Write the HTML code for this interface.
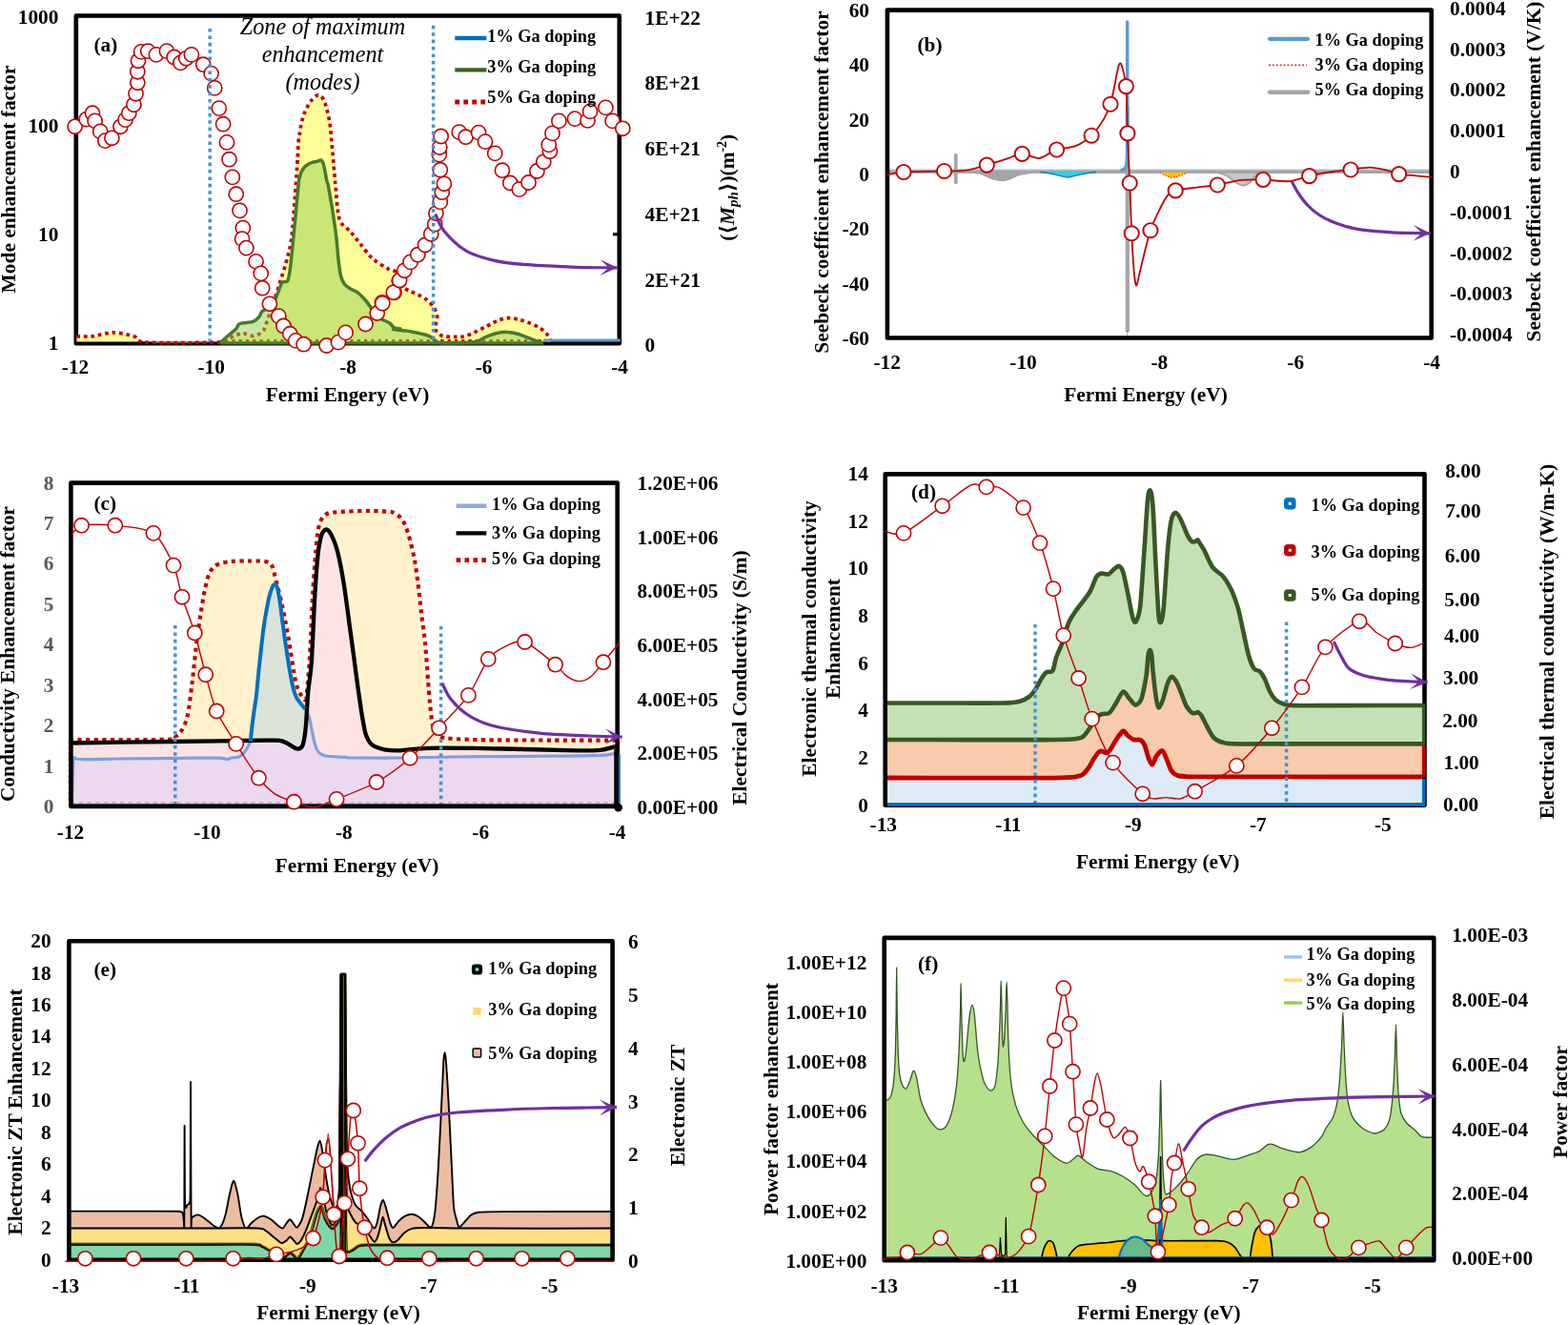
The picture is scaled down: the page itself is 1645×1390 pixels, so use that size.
<!DOCTYPE html>
<html lang="en"><head><meta charset="utf-8"><title>Figure</title>
<style>
html,body{margin:0;padding:0;background:#fff;}
svg{display:block;}
svg text{font-family:"Liberation Serif","DejaVu Serif",serif;}
</style></head><body>
<svg width="1645" height="1390" viewBox="0 0 1645 1390">
<rect width="1645" height="1390" fill="#fff"/>
<g id="panel-a">
<rect x="79.8" y="16.5" width="570" height="343.8" fill="none" stroke="#000" stroke-width="4.6" stroke-linejoin="round"/>
<line x1="643" y1="245.8" x2="649.8" y2="245.8" stroke="#000" stroke-width="3.2" />
<path d="M80.4 352.8 C82.9 352.8 91.3 353.3 97 352.8 C102.8 352.2 112.2 348.9 118.7 348.9 C125.2 348.9 135.3 351.2 140.4 352.8 C145.6 354.3 140.6 358.2 153.2 359.1 C165.8 360.1 212.4 359.4 224.7 359.1 C236.9 358.9 231.4 358.5 234.9 357.4 C238.3 356.2 244.6 352.6 247.7 351.5 C250.7 350.3 252.6 349.6 255.3 349.7 C258 349.8 262.5 352.6 265.5 352.3 C268.6 351.9 273.4 350.3 275.7 347.7 C278 345.1 279.1 339.5 280.9 334.9 C282.6 330.3 285.3 322.8 287.2 317 C289.1 311.3 291.5 303.5 293.6 296.6 C295.7 289.7 299.4 278.7 301.3 271.1 C303.2 263.4 304.8 259.6 306.4 245.5 C307.9 231.5 310.6 190 311.5 177.6 C312.4 165.2 312.1 167.3 312.4 162.9 C312.6 158.5 312.9 151.6 313.2 148.2 C313.5 144.8 314 142.6 314.4 140.4 C314.7 138.2 315 135.7 315.4 133.5 C315.8 131.3 316.5 128 317.1 125.8 C317.7 123.6 318.5 120.9 319.3 118.8 C320.1 116.8 321.3 114.3 322.3 112.4 C323.3 110.4 324.8 107.6 326.2 105.9 C327.5 104.2 330.1 101.6 331.4 100.7 C332.6 99.8 333.5 99.8 334.4 99.9 C335.3 99.9 336.4 99.9 337.4 101.2 C338.4 102.4 340 106 340.9 108.1 C341.7 110.1 342.4 112.8 343 115 C343.6 117.1 344.3 120.1 344.7 122.3 C345.2 124.5 345.7 127.4 346 129.6 C346.4 131.8 346.7 134.8 346.9 137 C347.1 139.2 347.3 142.1 347.5 144.3 C347.7 146.5 348 149.5 348.2 151.7 C348.4 153.9 348.7 156.8 348.9 159 C349.1 161.2 349.3 164.1 349.5 166.3 C349.7 168.5 349.9 171.5 350.1 173.7 C350.3 175.9 350.6 178.8 350.8 181 C351 183.2 351.2 186.1 351.4 188.3 C351.6 190.5 351.4 189.4 352.1 195.7 C352.8 202 353.8 223.1 356.2 230.2 C358.5 237.3 364.4 239.1 367.7 243 C370.9 246.8 374.4 251.5 377.9 255.7 C381.3 260 386.4 267.2 390.6 271.1 C394.9 274.9 401.7 278.9 406 281.3 C410.2 283.7 417.3 284.4 418.7 286.9 C420.1 289.4 413.5 295.1 415.3 297.9 C417.1 300.7 426 303.2 430.6 305.5 C435.2 307.8 442.3 310.7 446 313.2 C449.6 315.7 453 319.3 454.9 322.1 C456.8 325 458.5 328.9 458.7 332.3 C459 335.8 455.9 342.1 456.7 345.1 C457.4 348.1 460.8 351 463.8 352.3 C466.8 353.5 472.8 353.3 476.6 353.3 C480.4 353.3 484.4 353.9 489.4 352.3 C494.3 350.6 504.8 345 509.8 342.6 C514.8 340.1 519.1 337.5 522.6 336.2 C526 334.8 529.7 333.8 532.8 333.6 C535.8 333.4 539.9 334.2 543 334.9 C546 335.5 549.7 336.6 553.2 338 C556.6 339.3 562.9 342 566 343.8 C569 345.7 571.8 348.1 573.6 350.2 C575.5 352.3 577.5 356.7 578.2 357.9 L578.2 358.5 L80.4 358.5 Z" fill="#ffff99" stroke="none" stroke-width="1" />
<path d="M80.4 352.8 C82.9 352.8 91.3 353.3 97 352.8 C102.8 352.2 112.2 348.9 118.7 348.9 C125.2 348.9 135.3 351.2 140.4 352.8 C145.6 354.3 140.6 358.2 153.2 359.1 C165.8 360.1 212.4 359.4 224.7 359.1 C236.9 358.9 231.4 358.5 234.9 357.4 C238.3 356.2 244.6 352.6 247.7 351.5 C250.7 350.3 252.6 349.6 255.3 349.7 C258 349.8 262.5 352.6 265.5 352.3 C268.6 351.9 273.4 350.3 275.7 347.7 C278 345.1 279.1 339.5 280.9 334.9 C282.6 330.3 285.3 322.8 287.2 317 C289.1 311.3 291.5 303.5 293.6 296.6 C295.7 289.7 299.4 278.7 301.3 271.1 C303.2 263.4 304.8 259.6 306.4 245.5 C307.9 231.5 310.6 190 311.5 177.6 C312.4 165.2 312.1 167.3 312.4 162.9 C312.6 158.5 312.9 151.6 313.2 148.2 C313.5 144.8 314 142.6 314.4 140.4 C314.7 138.2 315 135.7 315.4 133.5 C315.8 131.3 316.5 128 317.1 125.8 C317.7 123.6 318.5 120.9 319.3 118.8 C320.1 116.8 321.3 114.3 322.3 112.4 C323.3 110.4 324.8 107.6 326.2 105.9 C327.5 104.2 330.1 101.6 331.4 100.7 C332.6 99.8 333.5 99.8 334.4 99.9 C335.3 99.9 336.4 99.9 337.4 101.2 C338.4 102.4 340 106 340.9 108.1 C341.7 110.1 342.4 112.8 343 115 C343.6 117.1 344.3 120.1 344.7 122.3 C345.2 124.5 345.7 127.4 346 129.6 C346.4 131.8 346.7 134.8 346.9 137 C347.1 139.2 347.3 142.1 347.5 144.3 C347.7 146.5 348 149.5 348.2 151.7 C348.4 153.9 348.7 156.8 348.9 159 C349.1 161.2 349.3 164.1 349.5 166.3 C349.7 168.5 349.9 171.5 350.1 173.7 C350.3 175.9 350.6 178.8 350.8 181 C351 183.2 351.2 186.1 351.4 188.3 C351.6 190.5 351.4 189.4 352.1 195.7 C352.8 202 353.8 223.1 356.2 230.2 C358.5 237.3 364.4 239.1 367.7 243 C370.9 246.8 374.4 251.5 377.9 255.7 C381.3 260 386.4 267.2 390.6 271.1 C394.9 274.9 401.7 278.9 406 281.3 C410.2 283.7 417.3 284.4 418.7 286.9 C420.1 289.4 413.5 295.1 415.3 297.9 C417.1 300.7 426 303.2 430.6 305.5 C435.2 307.8 442.3 310.7 446 313.2 C449.6 315.7 453 319.3 454.9 322.1 C456.8 325 458.5 328.9 458.7 332.3 C459 335.8 455.9 342.1 456.7 345.1 C457.4 348.1 460.8 351 463.8 352.3 C466.8 353.5 472.8 353.3 476.6 353.3 C480.4 353.3 484.4 353.9 489.4 352.3 C494.3 350.6 504.8 345 509.8 342.6 C514.8 340.1 519.1 337.5 522.6 336.2 C526 334.8 529.7 333.8 532.8 333.6 C535.8 333.4 539.9 334.2 543 334.9 C546 335.5 549.7 336.6 553.2 338 C556.6 339.3 562.9 342 566 343.8 C569 345.7 571.8 348.1 573.6 350.2 C575.5 352.3 577.5 356.7 578.2 357.9" fill="none" stroke="#c00000" stroke-width="3.7" stroke-dasharray="3.7 3.8"/>
<line x1="236" y1="357.2" x2="578" y2="357.2" stroke="#c00000" stroke-width="2.6" stroke-dasharray="3.2 4.1"/>
<path d="M231 359.6 C232.3 358.4 237.5 353.7 240 351.5 C242.5 349.3 245.9 346.9 247.7 345.1 C249.4 343.3 248.8 340.6 251.5 339.5 C254.2 338.3 262.5 338.5 265.5 337.4 C268.6 336.4 270.6 333.9 271.9 332.3 C273.3 330.8 272.9 328.8 274.5 327.2 C276 325.7 280 324 282.1 322.1 C284.2 320.2 286.8 317.5 288.5 314.5 C290.2 311.4 292.5 304.5 293.6 301.7 C294.8 298.9 294.9 297.2 296.2 296.1 C297.4 294.9 300.7 297 302 294 C303.4 291.1 304.2 283.4 305.1 276.2 C306 268.9 307.4 253.2 308.2 245.5 C308.9 237.9 309.5 233.1 310.2 225.1 C311 217.1 312.6 198.2 313.2 192.2 C313.9 186.3 314 187.3 314.5 185.3 C315.1 183.4 315.9 180.8 316.7 179.3 C317.5 177.7 318.6 176.1 319.7 175 C320.8 173.9 322.7 172.7 324 171.9 C325.3 171.2 327.1 170.6 328.3 170.2 C329.6 169.8 331.5 169.7 332.7 169.4 C333.8 169 335.3 168.1 336.1 168.1 C336.9 168 337.4 168.4 337.8 168.9 C338.3 169.4 338.7 170.3 339.1 171.5 C339.5 172.7 340 174.9 340.4 176.7 C340.8 178.5 341.3 181.5 341.7 183.6 C342.1 185.7 342.6 188.6 343 190.5 C343.5 192.4 343.4 189.1 344.7 196.5 C346.1 204 350.3 229.2 351.8 240.4 C353.4 251.6 354.1 263.8 354.9 271.1 C355.7 278.3 356.5 284.9 357.4 288.9 C358.4 293 359.7 295.8 361.3 297.9 C362.8 300 365.6 301.6 367.7 303 C369.8 304.3 373 305.1 375.3 306.8 C377.6 308.5 380.7 311.8 383 314.5 C385.3 317.1 388.3 321.8 390.6 324.7 C392.9 327.6 395.6 331.5 398.3 333.6 C401 335.7 406.2 337.2 408.5 338.7 C410.8 340.3 411.9 342.9 413.6 343.8 C415.3 344.8 420.1 344.8 420 345.1 C419.9 345.4 411.2 345.2 412.8 345.6 C414.4 346 425.1 346.7 430.6 347.7 C436.2 348.7 445.9 350.8 449.8 352.3 C453.7 353.7 455 356.3 456.7 357.4 C458.4 358.4 458.3 359.1 461.3 359.4 C464.3 359.7 471.6 359.7 476.6 359.7 C481.6 359.6 490.6 359.5 494.5 359.1 C498.3 358.8 499.8 358.2 502.1 357.4 C504.4 356.5 506.7 354.5 509.8 353.3 C512.9 352.1 519.1 349.9 522.6 349.2 C526 348.5 529.7 348.3 532.8 348.4 C535.8 348.6 539.9 349.4 543 350.2 C546 351.1 550.1 352.9 553.2 354 C556.3 355.2 560.9 357 563.4 357.9 C565.9 358.8 568.8 359.6 569.8 359.9 L569.8 360.3 L231 360.3 Z" fill="#92d050" stroke="none" stroke-width="1" fill-opacity="0.5"/>
<path d="M231 359.6 C232.3 358.4 237.5 353.7 240 351.5 C242.5 349.3 245.9 346.9 247.7 345.1 C249.4 343.3 248.8 340.6 251.5 339.5 C254.2 338.3 262.5 338.5 265.5 337.4 C268.6 336.4 270.6 333.9 271.9 332.3 C273.3 330.8 272.9 328.8 274.5 327.2 C276 325.7 280 324 282.1 322.1 C284.2 320.2 286.8 317.5 288.5 314.5 C290.2 311.4 292.5 304.5 293.6 301.7 C294.8 298.9 294.9 297.2 296.2 296.1 C297.4 294.9 300.7 297 302 294 C303.4 291.1 304.2 283.4 305.1 276.2 C306 268.9 307.4 253.2 308.2 245.5 C308.9 237.9 309.5 233.1 310.2 225.1 C311 217.1 312.6 198.2 313.2 192.2 C313.9 186.3 314 187.3 314.5 185.3 C315.1 183.4 315.9 180.8 316.7 179.3 C317.5 177.7 318.6 176.1 319.7 175 C320.8 173.9 322.7 172.7 324 171.9 C325.3 171.2 327.1 170.6 328.3 170.2 C329.6 169.8 331.5 169.7 332.7 169.4 C333.8 169 335.3 168.1 336.1 168.1 C336.9 168 337.4 168.4 337.8 168.9 C338.3 169.4 338.7 170.3 339.1 171.5 C339.5 172.7 340 174.9 340.4 176.7 C340.8 178.5 341.3 181.5 341.7 183.6 C342.1 185.7 342.6 188.6 343 190.5 C343.5 192.4 343.4 189.1 344.7 196.5 C346.1 204 350.3 229.2 351.8 240.4 C353.4 251.6 354.1 263.8 354.9 271.1 C355.7 278.3 356.5 284.9 357.4 288.9 C358.4 293 359.7 295.8 361.3 297.9 C362.8 300 365.6 301.6 367.7 303 C369.8 304.3 373 305.1 375.3 306.8 C377.6 308.5 380.7 311.8 383 314.5 C385.3 317.1 388.3 321.8 390.6 324.7 C392.9 327.6 395.6 331.5 398.3 333.6 C401 335.7 406.2 337.2 408.5 338.7 C410.8 340.3 411.9 342.9 413.6 343.8 C415.3 344.8 420.1 344.8 420 345.1 C419.9 345.4 411.2 345.2 412.8 345.6 C414.4 346 425.1 346.7 430.6 347.7 C436.2 348.7 445.9 350.8 449.8 352.3 C453.7 353.7 455 356.3 456.7 357.4 C458.4 358.4 458.3 359.1 461.3 359.4 C464.3 359.7 471.6 359.7 476.6 359.7 C481.6 359.6 490.6 359.5 494.5 359.1 C498.3 358.8 499.8 358.2 502.1 357.4 C504.4 356.5 506.7 354.5 509.8 353.3 C512.9 352.1 519.1 349.9 522.6 349.2 C526 348.5 529.7 348.3 532.8 348.4 C535.8 348.6 539.9 349.4 543 350.2 C546 351.1 550.1 352.9 553.2 354 C556.3 355.2 560.9 357 563.4 357.9 C565.9 358.8 568.8 359.6 569.8 359.9" fill="none" stroke="#477a30" stroke-width="3.5" stroke-linejoin="round"/>
<line x1="231" y1="360" x2="570" y2="360" stroke="#477a30" stroke-width="3.2" />
<line x1="570" y1="356.9" x2="650.8" y2="356.9" stroke="#5b9bd5" stroke-width="3" />
<g fill="#fff" stroke="#c00000" stroke-width="1.6"><circle cx="78.6" cy="132.8" r="7.6"/><circle cx="90.6" cy="125.1" r="7.6"/><circle cx="97" cy="118.7" r="7.6"/><circle cx="99.6" cy="126.9" r="7.6"/><circle cx="105.2" cy="137.9" r="7.6"/><circle cx="110.3" cy="147.6" r="7.6"/><circle cx="117.4" cy="144.8" r="7.6"/><circle cx="126.4" cy="132.8" r="7.6"/><circle cx="131.5" cy="125.6" r="7.6"/><circle cx="135.3" cy="118.7" r="7.6"/><circle cx="140.4" cy="109.8" r="7.6"/><circle cx="142.5" cy="98.3" r="7.6"/><circle cx="144.3" cy="86.8" r="7.6"/><circle cx="144.3" cy="75.3" r="7.6"/><circle cx="145" cy="63.8" r="7.6"/><circle cx="148.1" cy="54.4" r="7.6"/><circle cx="155.2" cy="53.6" r="7.6"/><circle cx="163.9" cy="57.4" r="7.6"/><circle cx="174.9" cy="53.6" r="7.6"/><circle cx="182.6" cy="60" r="7.6"/><circle cx="189.4" cy="65.9" r="7.6"/><circle cx="195.3" cy="61.3" r="7.6"/><circle cx="200.9" cy="57.4" r="7.6"/><circle cx="213.2" cy="67.7" r="7.6"/><circle cx="221.6" cy="77.1" r="7.6"/><circle cx="225.2" cy="92.4" r="7.6"/><circle cx="229.8" cy="113.6" r="7.6"/><circle cx="234.1" cy="130.2" r="7.6"/><circle cx="238" cy="149.4" r="7.6"/><circle cx="240.5" cy="167.2" r="7.6"/><circle cx="243.8" cy="185.9" r="7.6"/><circle cx="247.7" cy="203.7" r="7.6"/><circle cx="251.5" cy="220.9" r="7.6"/><circle cx="254.8" cy="239.1" r="7.6"/><circle cx="254" cy="250.6" r="7.6"/><circle cx="258.4" cy="260.1" r="7.6"/><circle cx="268.6" cy="274.4" r="7.6"/><circle cx="273.7" cy="286.9" r="7.6"/><circle cx="275.2" cy="302.2" r="7.6"/><circle cx="282.9" cy="318.8" r="7.6"/><circle cx="292.3" cy="331.6" r="7.6"/><circle cx="297.4" cy="342" r="7.6"/><circle cx="304.3" cy="350.2" r="7.6"/><circle cx="310.2" cy="357.4" r="7.6"/><circle cx="318.6" cy="361.2" r="7.6"/><circle cx="342.6" cy="362.5" r="7.6"/><circle cx="354.9" cy="359.1" r="7.6"/><circle cx="362.6" cy="348.9" r="7.6"/><circle cx="383.5" cy="340" r="7.6"/><circle cx="395.7" cy="328.5" r="7.6"/><circle cx="400.9" cy="317.5" r="7.6"/><circle cx="413.6" cy="306.8" r="7.6"/><circle cx="418.7" cy="294.6" r="7.6"/><circle cx="401.3" cy="318.3" r="7.6"/><circle cx="412.8" cy="306.8" r="7.6"/><circle cx="419.1" cy="294" r="7.6"/><circle cx="424.3" cy="283.8" r="7.6"/><circle cx="430.6" cy="274.9" r="7.6"/><circle cx="438.3" cy="267.2" r="7.6"/><circle cx="446" cy="257" r="7.6"/><circle cx="452.3" cy="245.5" r="7.6"/><circle cx="456.2" cy="235.3" r="7.6"/><circle cx="457.4" cy="223.8" r="7.6"/><circle cx="461.8" cy="211.9" r="7.6"/><circle cx="463.8" cy="201.7" r="7.6"/><circle cx="465.9" cy="192.8" r="7.6"/><circle cx="461.8" cy="178.2" r="7.6"/><circle cx="460.8" cy="162.1" r="7.6"/><circle cx="461.3" cy="154.5" r="7.6"/><circle cx="462.6" cy="143" r="7.6"/><circle cx="481.7" cy="138.6" r="7.6"/><circle cx="488.6" cy="143.7" r="7.6"/><circle cx="502.1" cy="139.1" r="7.6"/><circle cx="509" cy="148.6" r="7.6"/><circle cx="519.2" cy="160.9" r="7.6"/><circle cx="526.9" cy="178.7" r="7.6"/><circle cx="535.3" cy="192" r="7.6"/><circle cx="544.8" cy="198.6" r="7.6"/><circle cx="554.5" cy="191.5" r="7.6"/><circle cx="563.4" cy="179.5" r="7.6"/><circle cx="570.3" cy="169.8" r="7.6"/><circle cx="576.9" cy="158.8" r="7.6"/><circle cx="575.7" cy="151.9" r="7.6"/><circle cx="579.5" cy="139.9" r="7.6"/><circle cx="586.4" cy="126.9" r="7.6"/><circle cx="603" cy="124.6" r="7.6"/><circle cx="616.5" cy="126.4" r="7.6"/><circle cx="619.1" cy="116.9" r="7.6"/><circle cx="635.4" cy="112.9" r="7.6"/><circle cx="642.6" cy="126.9" r="7.6"/><circle cx="653.3" cy="134.8" r="7.6"/></g>
<line x1="220.2" y1="30" x2="220.2" y2="358" stroke="#4492d8" stroke-width="3.5" stroke-dasharray="3.6 3.8"/>
<line x1="454.6" y1="26.8" x2="454.6" y2="358" stroke="#4492d8" stroke-width="3.5" stroke-dasharray="3.6 3.8"/>
<path d="M456.7 224.6 C458.3 227.7 460.9 236.5 466.4 243 C471.8 249.4 480.4 258.3 489.4 263.4 C498.3 268.5 509.4 271.2 520 273.6 C530.6 276 539.1 276.6 553.2 277.7 C567.2 278.8 588.5 279.7 604.3 280.3 C620 280.8 640.4 280.7 647.7 280.8" fill="none" stroke="#7030a0" stroke-width="3.2" stroke-linecap="butt"/><path d="M647.7 280.8 L629.8 272.3 L638.7 280.7 L629.6 288.9Z" fill="#7030a0" stroke="none" stroke-width="1" />
<text x="61.4" y="24.9" font-size="21.3" text-anchor="end" font-weight="bold" font-style="normal" fill="#000" >1000</text>
<text x="61.4" y="139" font-size="21.3" text-anchor="end" font-weight="bold" font-style="normal" fill="#000" >100</text>
<text x="61.4" y="252.5" font-size="21.3" text-anchor="end" font-weight="bold" font-style="normal" fill="#000" >10</text>
<text x="61.4" y="367.2" font-size="21.3" text-anchor="end" font-weight="bold" font-style="normal" fill="#000" >1</text>
<text x="79" y="392.4" font-size="21.3" text-anchor="middle" font-weight="bold" font-style="normal" fill="#000" >-12</text>
<text x="221.6" y="392.4" font-size="21.3" text-anchor="middle" font-weight="bold" font-style="normal" fill="#000" >-10</text>
<text x="365" y="392.4" font-size="21.3" text-anchor="middle" font-weight="bold" font-style="normal" fill="#000" >-8</text>
<text x="507.6" y="392.4" font-size="21.3" text-anchor="middle" font-weight="bold" font-style="normal" fill="#000" >-6</text>
<text x="650" y="392.4" font-size="21.3" text-anchor="middle" font-weight="bold" font-style="normal" fill="#000" >-4</text>
<text x="676.6" y="25.7" font-size="21.3" text-anchor="start" font-weight="bold" font-style="normal" fill="#000" >1E+22</text>
<text x="676.6" y="94.1" font-size="21.3" text-anchor="start" font-weight="bold" font-style="normal" fill="#000" >8E+21</text>
<text x="676.6" y="163" font-size="21.3" text-anchor="start" font-weight="bold" font-style="normal" fill="#000" >6E+21</text>
<text x="676.6" y="232.3" font-size="21.3" text-anchor="start" font-weight="bold" font-style="normal" fill="#000" >4E+21</text>
<text x="676.6" y="300.8" font-size="21.3" text-anchor="start" font-weight="bold" font-style="normal" fill="#000" >2E+21</text>
<text x="676.6" y="369" font-size="21.3" text-anchor="start" font-weight="bold" font-style="normal" fill="#000" >0</text>
<text x="364.5" y="420.8" font-size="21.3" text-anchor="middle" font-weight="bold" font-style="normal" fill="#000" >Fermi Engery (eV)</text>
<text x="16" y="188" font-size="21.4" text-anchor="middle" font-weight="bold" font-style="normal" fill="#000" transform="rotate(-90 16 188)" >Mode enhancement factor</text>
<text transform="rotate(-90 769.6 196.8)" x="769.6" y="196.8" font-size="21.3" font-weight="bold" text-anchor="middle">(⟨<tspan font-style="italic">M</tspan><tspan font-style="italic" font-size="15" dy="4">ph</tspan><tspan dy="-4">⟩)(m</tspan><tspan font-size="14" dy="-8">-2</tspan><tspan dy="8">)</tspan></text>
<text x="98.5" y="54" font-size="21.3" text-anchor="start" font-weight="bold" font-style="normal" fill="#000" >(a)</text>
<text x="338.5" y="35.5" font-size="24.2" text-anchor="middle" font-weight="normal" font-style="italic" fill="#000" >Zone of maximum</text>
<text x="338.5" y="65.3" font-size="24.2" text-anchor="middle" font-weight="normal" font-style="italic" fill="#000" >enhancement</text>
<text x="338.5" y="94" font-size="24.2" text-anchor="middle" font-weight="normal" font-style="italic" fill="#000" >(modes)</text>
<text x="511.3" y="44.3" font-size="18.3" text-anchor="start" font-weight="bold" font-style="normal" fill="#000" >1% Ga doping</text>
<text x="511.3" y="75.7" font-size="18.3" text-anchor="start" font-weight="bold" font-style="normal" fill="#000" >3% Ga doping</text>
<text x="511.3" y="107.5" font-size="18.3" text-anchor="start" font-weight="bold" font-style="normal" fill="#000" >5% Ga doping</text>
<line x1="477.3" y1="40" x2="510.4" y2="40" stroke="#0070c0" stroke-width="4.6" />
<line x1="477.3" y1="73.3" x2="510.4" y2="73.3" stroke="#3b611f" stroke-width="4.2" />
<line x1="477.3" y1="107" x2="510.4" y2="107" stroke="#c00000" stroke-width="4.8" stroke-dasharray="4.8 4.2"/>
</g>
<g id="panel-b">
<path d="M1016.2 180.8 C1018.3 181.1 1024.7 181.4 1028.9 182.6 C1033.2 183.7 1037.9 186.5 1041.7 187.7 C1045.5 188.8 1048.9 189.4 1051.9 189.4 C1054.9 189.4 1056.6 188.7 1059.6 187.7 C1062.6 186.6 1065.5 184.5 1069.8 183.3 C1074 182.2 1082.6 181.2 1085.1 180.8Z" fill="#a5a5a5" stroke="#a5a5a5" stroke-width="1.5" />
<path d="M1276.1 180.8 C1277.8 181.3 1282.9 182 1286.3 183.8 C1289.7 185.6 1293.5 189.7 1296.5 191.5 C1299.5 193.3 1301.8 194.5 1304.1 194.6 C1306.5 194.6 1308.4 193.6 1310.5 192 C1312.7 190.4 1314.6 187 1316.9 185.1 C1319.3 183.2 1323.3 181.5 1324.6 180.8Z" fill="#c8c8c8" stroke="#a5a5a5" stroke-width="2" />
<line x1="930.9" y1="180.1" x2="1501.7" y2="180.1" stroke="#a5a5a5" stroke-width="3.8" />
<line x1="930.9" y1="177.9" x2="1501.7" y2="177.9" stroke="#9dc3e6" stroke-width="0.9" />
<path d="M1091.5 180.3 C1093.8 180.7 1100.9 181.9 1105.5 182.8 C1110.2 183.7 1114.9 185.8 1119.6 185.9 C1124.3 185.9 1128.5 184 1133.6 183.1 C1138.7 182.1 1147.4 180.7 1150.2 180.3Z" fill="#22d3ee" stroke="none" stroke-width="1" />
<path d="M1091.5 180.3 C1093.8 180.7 1100.9 181.9 1105.5 182.8 C1110.2 183.7 1114.9 185.8 1119.6 185.9 C1124.3 185.9 1128.5 184 1133.6 183.1 C1138.7 182.1 1147.4 180.7 1150.2 180.3" fill="none" stroke="#2e75b6" stroke-width="1.5" />
<path d="M1217.4 180.8 C1218.3 181.4 1220.8 183.4 1223 184.3 C1225.2 185.3 1228.1 186.4 1230.6 186.4 C1233.2 186.4 1235.8 185.3 1238.3 184.3 C1240.8 183.4 1244.3 181.4 1245.4 180.8Z" fill="#ffc000" stroke="none" stroke-width="1" />
<path d="M1217.4 180.8 C1218.3 181.4 1220.8 183.4 1223 184.3 C1225.2 185.3 1228.1 186.4 1230.6 186.4 C1233.2 186.4 1235.8 185.3 1238.3 184.3 C1240.8 183.4 1244.3 181.4 1245.4 180.8" fill="none" stroke="#e03030" stroke-width="1.2" stroke-dasharray="1.4 1.6"/>
<line x1="1182.8" y1="112" x2="1182.8" y2="347" stroke="#a5a5a5" stroke-width="4.2" stroke-linecap="round"/>
<line x1="1002.8" y1="162.5" x2="1002.8" y2="191.5" stroke="#a5a5a5" stroke-width="3.6" stroke-linecap="round"/>
<path d="M1176.8 178.5 C1181.3 177.7 1182.5 173.7 1182.7 159.7 L1182.7 23" fill="none" stroke="#5b9bd5" stroke-width="3.4" stroke-linecap="round"/>
<line x1="1182.8" y1="347" x2="1182.8" y2="356" stroke="#e03030" stroke-width="1" stroke-dasharray="1.5 1.5"/>
<line x1="1182.3" y1="95" x2="1182.3" y2="113" stroke="#e03030" stroke-width="1.4" stroke-dasharray="1.5 1.5"/>
<rect x="930.9" y="10.6" width="570.8" height="343.9" fill="none" stroke="#000" stroke-width="4.6" stroke-linejoin="round"/>
<path d="M931 183.2 C933.3 182.8 940 181 948 180.5 C956 180 981.9 179.7 990.6 179.5 C999.4 179.3 1007.7 179.6 1013.6 178.7 C1019.6 177.9 1029.9 174.6 1035.3 173.1 C1040.8 171.6 1049.5 168.8 1054.5 167.2 C1059.4 165.7 1067.6 161.5 1072.3 161.4 C1077.1 161.2 1085.4 166.5 1090.2 166 C1095 165.4 1103.5 158.7 1108.6 157 C1113.7 155.3 1123.6 155.2 1128.5 153.2 C1133.4 151.2 1141.2 146 1145.1 142.2 C1149 138.5 1155.2 129.5 1157.9 125.1 C1160.5 120.7 1163.5 114 1165 109.3 C1166.6 104.5 1168.3 94.6 1169.4 89.4 C1170.5 84.2 1172.3 73.3 1173.2 70.2 C1174 67.1 1175.1 65.9 1175.7 66.4 C1176.4 66.9 1177.5 70.8 1178.3 74 C1179 77.3 1180.7 81.9 1181.4 90.6 C1182 99.4 1182.4 126.4 1182.9 139.9 C1183.4 153.4 1184.6 178 1185.2 192 C1185.8 206 1186.6 232.2 1187.2 244.8 C1187.8 257.4 1189.1 279.1 1189.8 286.4 C1190.5 293.7 1191.5 300 1192.3 299.7 C1193.2 299.3 1194.2 291.6 1196.2 283.8 C1198.1 276.1 1204 250.6 1206.9 241.7 C1209.8 232.8 1215.4 222 1217.9 217 C1220.4 212 1223.5 206.5 1225.5 204.3 C1227.6 202 1229.2 200.9 1233.2 199.9 C1237.2 198.9 1249.8 197.4 1255.6 196.6 C1261.5 195.8 1271.2 195.1 1277.3 194 C1283.5 193 1295.2 189.7 1301.6 188.9 C1308 188.2 1318.3 188.3 1325.1 188.4 C1331.9 188.6 1346.2 190.7 1352.7 190.2 C1359.1 189.7 1367.5 186 1373.6 184.6 C1379.7 183.2 1392.8 180.9 1398.6 180 C1404.4 179.1 1411.9 178.5 1417 178 C1422.1 177.4 1431.9 175.6 1436.9 175.7 C1442 175.8 1450.7 177.8 1454.8 178.7 C1458.9 179.6 1463.5 181.8 1467.6 182.6 C1471.6 183.3 1480.8 183.9 1485.4 184.3 C1490 184.8 1499.8 185.7 1502 185.9" fill="none" stroke="#c00000" stroke-width="1.8" />
<g fill="#fff" stroke="#c00000" stroke-width="1.9"><circle cx="948" cy="180.5" r="7.6"/><circle cx="990.6" cy="179.5" r="7.6"/><circle cx="1035.3" cy="173.1" r="7.6"/><circle cx="1072.3" cy="161.4" r="7.6"/><circle cx="1108.6" cy="157" r="7.6"/><circle cx="1145.1" cy="142.2" r="7.6"/><circle cx="1165" cy="109.3" r="7.6"/><circle cx="1181.4" cy="90.6" r="7.6"/><circle cx="1182.9" cy="139.9" r="7.6"/><circle cx="1185.2" cy="192" r="7.6"/><circle cx="1233.2" cy="199.9" r="7.6"/><circle cx="1187.2" cy="244.8" r="7.6"/><circle cx="1206.9" cy="241.7" r="7.6"/><circle cx="1277.3" cy="194" r="7.6"/><circle cx="1325.1" cy="188.4" r="7.6"/><circle cx="1373.6" cy="184.6" r="7.6"/><circle cx="1417" cy="178" r="7.6"/><circle cx="1467.6" cy="182.6" r="7.6"/></g>
<path d="M1355.2 190.2 C1356.3 192.2 1359.2 198.3 1362 202.5 C1364.8 206.7 1368.3 211.7 1372 215.5 C1375.7 219.3 1379.8 222.7 1384 225.5 C1388.2 228.3 1392.5 230.4 1397 232.3 C1401.5 234.2 1405.7 235.7 1411 237.2 C1416.3 238.7 1420.8 240.1 1429 241.2 C1437.2 242.3 1448 243.2 1460 243.8 C1472 244.4 1493.9 244.6 1500.7 244.8" fill="none" stroke="#7030a0" stroke-width="3.2" stroke-linecap="butt"/><path d="M1500.7 244.8 L1482.9 236.1 L1491.7 244.6 L1482.5 252.7Z" fill="#7030a0" stroke="none" stroke-width="1" />
<text x="912" y="18" font-size="21.3" text-anchor="end" font-weight="bold" font-style="normal" fill="#000" >60</text>
<text x="912" y="75.3" font-size="21.3" text-anchor="end" font-weight="bold" font-style="normal" fill="#000" >40</text>
<text x="912" y="132.6" font-size="21.3" text-anchor="end" font-weight="bold" font-style="normal" fill="#000" >20</text>
<text x="912" y="189.9" font-size="21.3" text-anchor="end" font-weight="bold" font-style="normal" fill="#000" >0</text>
<text x="912" y="247.2" font-size="21.3" text-anchor="end" font-weight="bold" font-style="normal" fill="#000" >-20</text>
<text x="912" y="304.5" font-size="21.3" text-anchor="end" font-weight="bold" font-style="normal" fill="#000" >-40</text>
<text x="912" y="361.8" font-size="21.3" text-anchor="end" font-weight="bold" font-style="normal" fill="#000" >-60</text>
<text x="930.6" y="387.2" font-size="21.3" text-anchor="middle" font-weight="bold" font-style="normal" fill="#000" >-12</text>
<text x="1073.5" y="387.2" font-size="21.3" text-anchor="middle" font-weight="bold" font-style="normal" fill="#000" >-10</text>
<text x="1216.3" y="387.2" font-size="21.3" text-anchor="middle" font-weight="bold" font-style="normal" fill="#000" >-8</text>
<text x="1359.2" y="387.2" font-size="21.3" text-anchor="middle" font-weight="bold" font-style="normal" fill="#000" >-6</text>
<text x="1502" y="387.2" font-size="21.3" text-anchor="middle" font-weight="bold" font-style="normal" fill="#000" >-4</text>
<text x="1521" y="15.8" font-size="21.3" text-anchor="start" font-weight="bold" font-style="normal" fill="#000" >0.0004</text>
<text x="1521" y="58.6" font-size="21.3" text-anchor="start" font-weight="bold" font-style="normal" fill="#000" >0.0003</text>
<text x="1521" y="101.4" font-size="21.3" text-anchor="start" font-weight="bold" font-style="normal" fill="#000" >0.0002</text>
<text x="1521" y="144.2" font-size="21.3" text-anchor="start" font-weight="bold" font-style="normal" fill="#000" >0.0001</text>
<text x="1521" y="187" font-size="21.3" text-anchor="start" font-weight="bold" font-style="normal" fill="#000" >0</text>
<text x="1521" y="229.8" font-size="21.3" text-anchor="start" font-weight="bold" font-style="normal" fill="#000" >-0.0001</text>
<text x="1521" y="272.6" font-size="21.3" text-anchor="start" font-weight="bold" font-style="normal" fill="#000" >-0.0002</text>
<text x="1521" y="315.4" font-size="21.3" text-anchor="start" font-weight="bold" font-style="normal" fill="#000" >-0.0003</text>
<text x="1521" y="358.2" font-size="21.3" text-anchor="start" font-weight="bold" font-style="normal" fill="#000" >-0.0004</text>
<text x="1202" y="421" font-size="21.3" text-anchor="middle" font-weight="bold" font-style="normal" fill="#000" >Fermi Energy (eV)</text>
<text x="869" y="191" font-size="21.4" text-anchor="middle" font-weight="bold" font-style="normal" fill="#000" transform="rotate(-90 869 191)" >Seebeck coefficient enhancement factor</text>
<text x="1616" y="180" font-size="21.4" text-anchor="middle" font-weight="bold" font-style="normal" fill="#000" transform="rotate(-90 1616 180)" >Seebeck coefficient enhancement (V/K)</text>
<text x="962.5" y="54" font-size="21.3" text-anchor="start" font-weight="bold" font-style="normal" fill="#000" >(b)</text>
<text x="1379.5" y="47.8" font-size="18.3" text-anchor="start" font-weight="bold" font-style="normal" fill="#000" >1% Ga doping</text>
<text x="1379.5" y="73.9" font-size="18.3" text-anchor="start" font-weight="bold" font-style="normal" fill="#000" >3% Ga doping</text>
<text x="1379.5" y="100.2" font-size="18.3" text-anchor="start" font-weight="bold" font-style="normal" fill="#000" >5% Ga doping</text>
<line x1="1332" y1="40.8" x2="1372" y2="40.8" stroke="#5b9bd5" stroke-width="4.2" stroke-linecap="round"/>
<line x1="1331" y1="68.4" x2="1371" y2="68.4" stroke="#e03030" stroke-width="1.8" stroke-dasharray="1.9 2"/>
<line x1="1332" y1="96.8" x2="1372" y2="96.8" stroke="#a5a5a5" stroke-width="4.6" stroke-linecap="round"/>
</g>
<g id="panel-c">
<path d="M72.9 776 C81.1 776 111.8 776.1 127.7 776.1 C143.5 776 170.2 776.1 178.7 775.6 C187.2 775.1 182.6 774.1 184.3 772.8 C186.1 771.5 188.4 770.1 190.2 766.9 C192.1 763.6 194.9 758.8 196.6 751.1 C198.3 743.3 200.2 727.6 201.7 715.3 C203.2 703 205.5 679.9 206.8 669.1 C208.1 658.4 209.5 650.9 210.6 643.6 C211.8 636.3 213.1 627 214.5 620.6 C215.8 614.3 217.7 605.7 219.6 601.5 C221.5 597.3 223.8 594.4 227.2 592.6 C230.7 590.7 237.6 589.6 242.6 589 C247.5 588.4 255.1 588.5 260.4 588.5 C265.8 588.5 274.5 588.2 278.3 589 C282.1 589.8 283.8 591 285.4 593.8 C287.1 596.7 287.7 601.6 289.3 607.9 C290.9 614.2 294.2 626.8 296.2 636 C298.2 645.1 300.4 657.2 302.6 669.1 C304.7 681.1 308.1 706.1 310.2 715.3 C312.3 724.5 315.1 728 316.6 730.6 C318.1 733.3 319.5 735.5 320.4 733.2 C321.4 730.9 322.2 723.4 323 715.3 C323.7 707.2 324.8 693.2 325.5 679.4 C326.3 665.5 327.2 638.5 328.1 623.2 C329 607.9 330.4 588.1 331.4 577.2 C332.4 566.3 333.4 556.1 335 550.4 C336.6 544.8 338.8 541.5 342.1 539.4 C345.5 537.4 350.6 537.4 357.4 536.9 C364.3 536.4 380.4 535.9 388.1 535.9 C395.7 535.9 404.8 536.6 408.5 536.9 C412.2 537.2 410.8 536.8 412.8 537.9 C414.7 539.1 419.4 541.3 421.7 544.6 C424 547.8 426.2 553.3 428.1 559.4 C430 565.4 432.9 577.2 434.5 584.9 C436 592.6 437.1 601.6 438.3 610.4 C439.4 619.2 441 634 442.1 643.6 C443.3 653.2 444.9 663.9 446 674.3 C447 684.6 448.3 703.2 449 712.8 C449.8 722.4 450.4 731.4 451.1 738.3 C451.8 745.2 452.7 754.1 453.6 758.7 C454.6 763.3 455.5 766.6 457.4 768.9 C459.4 771.2 459.7 773 466.4 774 C473.1 775.1 485.3 775.7 502.1 776.1 C519 776.5 556.3 776.5 578.7 776.6 C601.1 776.7 640.6 776.6 651.5 776.6 L647.7 845.9 L74.4 845.9 Z" fill="#fff2cc" stroke="none" stroke-width="1" />
<path d="M74.4 779.5 C82.4 779.4 104.4 779 127.7 778.6 C151 778.3 206.8 777.7 229.8 777.4 C252.8 777.1 271.3 776.7 280.9 776.6 C290.4 776.5 290.6 776.4 293.6 776.9 C296.7 777.3 298.6 778.4 301.3 779.7 C304 781 309.1 785.1 311.5 785.5 C313.9 785.9 316 785.5 317.4 782.2 C318.7 779 319.8 772.3 320.7 763.8 C321.6 755.3 322.3 735.9 323.2 725.5 C324.2 715.2 325.8 709.3 326.8 694.7 C327.8 680.1 329.2 644.8 330.1 628.3 C331.1 611.8 332.2 594.8 333.2 584.9 C334.2 575 335.7 566.8 337 562.4 C338.4 558 340.5 555.7 342.1 555.5 C343.7 555.4 345.9 557.8 347.7 561.4 C349.6 565 352.4 572.1 354.4 579.8 C356.3 587.5 358.9 601.1 360.8 613 C362.7 624.9 365.4 646.3 367.1 658.9 C368.9 671.6 370.9 687.2 372.3 697.2 C373.6 707.2 374.9 717.5 376.1 725.5 C377.2 733.6 378.8 744.4 379.9 751.1 C381.1 757.8 382.2 765.7 383.7 770.2 C385.3 774.7 387.2 778.8 390.1 781.2 C393.1 783.6 398.9 785.4 403.4 786.3 C407.9 787.2 412.9 787.5 420 787.3 C427.1 787.1 434.9 785 451.1 784.8 C467.2 784.5 504.7 785.1 527.7 785.5 C550.6 785.9 588.9 787.1 604.3 787.3 C619.6 787.5 623.9 787.3 629.8 786.8 C635.7 786.3 641.2 784.3 643.8 783.7 C646.4 783.2 646.7 783.1 647.1 783 L647.7 845.9 L74.4 845.9 Z" fill="#fde3e3" stroke="none" stroke-width="1" />
<path d="M75.4 846 C75.6 839.1 76.4 807.7 76.9 800 C77.4 792.3 77.5 795.5 78.6 795 C79.7 794.5 76.9 796.4 84.3 796.5 C91.6 796.7 109.7 796.2 127.7 796 C145.7 795.8 188.9 795.3 204.3 795.2 C219.6 795.1 224.6 795 229.8 795.2 C235 795.4 236.8 796.5 238.7 796.5 C240.6 796.5 240.8 795.4 242.5 795 C244.3 794.6 248.5 794.9 250.6 794 C252.7 793.1 255.1 790.8 256.6 789 C258.1 787.2 259.8 783.6 260.7 781.9 C261.6 780.3 261.9 782.4 262.7 777.9 C263.4 773.4 264.8 758.7 265.7 751.7 C266.6 744.7 268 737.6 268.7 731.6 C269.5 725.5 270.1 717.4 270.7 711.4 C271.3 705.4 272.1 697 272.8 691.3 C273.4 685.5 274.2 678.3 274.8 673.1 C275.4 668 276 662.1 276.8 657 C277.5 651.9 278.9 643.7 279.8 638.9 C280.7 634 281.9 628.2 282.8 624.8 C283.7 621.3 285 617.5 285.8 615.7 C286.7 613.9 287.7 612.9 288.5 613.1 C289.2 613.2 290.2 614.4 290.9 616.7 C291.6 619.1 292.5 624 293.3 628.8 C294.1 633.6 295.1 642.6 295.9 648.9 C296.8 655.3 298 664.8 298.9 671.1 C299.9 677.5 301.1 685.5 302 691.3 C302.9 697 304.1 704.6 305 709.4 C305.9 714.2 307.1 720.2 308 723.5 C308.9 726.8 310 729.4 311 731.6 C312.1 733.7 313.7 735.8 315.1 737.6 C316.4 739.4 318.7 741.5 320.1 743.6 C321.5 745.8 323.1 748.4 324.1 751.7 C325.2 755 326.2 761.6 327.2 765.8 C328.1 770 329.1 776.4 330.2 779.9 C331.2 783.4 332.5 787 334.2 789 C335.9 790.9 337.2 792.2 341.3 793 C345.3 793.8 357.1 794.1 361.4 794.4 C365.7 794.7 361.4 794.9 370.2 795 C379 795.1 404 795.1 420 795 C436 794.8 452.8 794.2 476.6 794 C500.4 793.7 555.7 793.4 578.7 793.2 C601.7 793 619.8 792.8 629.8 792.4 C639.7 792 642.8 790.9 645.1 790.6 L647.7 845.9 L74.4 845.9 Z" fill="#ecd9ee" stroke="none" stroke-width="1" />
<path d="M262.7 777.9 C263.1 774 264.8 758.7 265.7 751.7 C266.6 744.7 268 737.6 268.7 731.6 C269.5 725.5 270.1 717.4 270.7 711.4 C271.3 705.4 272.1 697 272.8 691.3 C273.4 685.5 274.2 678.3 274.8 673.1 C275.4 668 276 662.1 276.8 657 C277.5 651.9 278.9 643.7 279.8 638.9 C280.7 634 281.9 628.2 282.8 624.8 C283.7 621.3 285 617.5 285.8 615.7 C286.7 613.9 287.7 612.9 288.5 613.1 C289.2 613.2 290.2 614.4 290.9 616.7 C291.6 619.1 292.5 624 293.3 628.8 C294.1 633.6 295.1 642.6 295.9 648.9 C296.8 655.3 298 664.8 298.9 671.1 C299.9 677.5 301.1 685.5 302 691.3 C302.9 697 304.1 704.6 305 709.4 C305.9 714.2 307.1 720.2 308 723.5 C308.9 726.8 310 729.4 311 731.6 C312.1 733.7 313.7 735.8 315.1 737.6 C316.4 739.4 319.3 742.7 320.1 743.6 L321.5 764 L319 780 L311.5 785.5 L301 779 L293.6 777 L263 777.5 Z" fill="#dbe2d8" stroke="none" stroke-width="1" />
<path d="M75.4 846 C75.6 839.1 76.4 807.7 76.9 800 C77.4 792.3 77.5 795.5 78.6 795 C79.7 794.5 76.9 796.4 84.3 796.5 C91.6 796.7 109.7 796.2 127.7 796 C145.7 795.8 188.9 795.3 204.3 795.2 C219.6 795.1 224.6 795 229.8 795.2 C235 795.4 236.8 796.5 238.7 796.5 C240.6 796.5 240.8 795.4 242.5 795 C244.3 794.6 248.5 794.9 250.6 794 C252.7 793.1 255.1 790.8 256.6 789 C258.1 787.2 259.8 783.6 260.7 781.9 C261.6 780.3 262.4 778.5 262.7 777.9" fill="none" stroke="#7d9fdd" stroke-width="3.2" />
<path d="M320.1 743.6 C320.7 744.8 323.1 748.4 324.1 751.7 C325.2 755 326.2 761.6 327.2 765.8 C328.1 770 329.1 776.4 330.2 779.9 C331.2 783.4 332.5 787 334.2 789 C335.9 790.9 337.2 792.2 341.3 793 C345.3 793.8 357.1 794.1 361.4 794.4 C365.7 794.7 361.4 794.9 370.2 795 C379 795.1 404 795.1 420 795 C436 794.8 452.8 794.2 476.6 794 C500.4 793.7 555.7 793.4 578.7 793.2 C601.7 793 619.8 792.8 629.8 792.4 C639.7 792 642.8 790.9 645.1 790.6" fill="none" stroke="#7d9fdd" stroke-width="3.2" />
<line x1="74.4" y1="841.9" x2="647.7" y2="841.9" stroke="#e892b8" stroke-width="1.5" stroke-dasharray="4.3 4.3"/>
<line x1="74.4" y1="843.7" x2="647.7" y2="843.7" stroke="#7d9fdd" stroke-width="1.2" />
<path d="M72.9 776 C81.1 776 111.8 776.1 127.7 776.1 C143.5 776 170.2 776.1 178.7 775.6 C187.2 775.1 182.6 774.1 184.3 772.8 C186.1 771.5 188.4 770.1 190.2 766.9 C192.1 763.6 194.9 758.8 196.6 751.1 C198.3 743.3 200.2 727.6 201.7 715.3 C203.2 703 205.5 679.9 206.8 669.1 C208.1 658.4 209.5 650.9 210.6 643.6 C211.8 636.3 213.1 627 214.5 620.6 C215.8 614.3 217.7 605.7 219.6 601.5 C221.5 597.3 223.8 594.4 227.2 592.6 C230.7 590.7 237.6 589.6 242.6 589 C247.5 588.4 255.1 588.5 260.4 588.5 C265.8 588.5 274.5 588.2 278.3 589 C282.1 589.8 283.8 591 285.4 593.8 C287.1 596.7 287.7 601.6 289.3 607.9 C290.9 614.2 294.2 626.8 296.2 636 C298.2 645.1 300.4 657.2 302.6 669.1 C304.7 681.1 308.1 706.1 310.2 715.3 C312.3 724.5 315.1 728 316.6 730.6 C318.1 733.3 319.5 735.5 320.4 733.2 C321.4 730.9 322.2 723.4 323 715.3 C323.7 707.2 324.8 693.2 325.5 679.4 C326.3 665.5 327.2 638.5 328.1 623.2 C329 607.9 330.4 588.1 331.4 577.2 C332.4 566.3 333.4 556.1 335 550.4 C336.6 544.8 338.8 541.5 342.1 539.4 C345.5 537.4 350.6 537.4 357.4 536.9 C364.3 536.4 380.4 535.9 388.1 535.9 C395.7 535.9 404.8 536.6 408.5 536.9 C412.2 537.2 410.8 536.8 412.8 537.9 C414.7 539.1 419.4 541.3 421.7 544.6 C424 547.8 426.2 553.3 428.1 559.4 C430 565.4 432.9 577.2 434.5 584.9 C436 592.6 437.1 601.6 438.3 610.4 C439.4 619.2 441 634 442.1 643.6 C443.3 653.2 444.9 663.9 446 674.3 C447 684.6 448.3 703.2 449 712.8 C449.8 722.4 450.4 731.4 451.1 738.3 C451.8 745.2 452.7 754.1 453.6 758.7 C454.6 763.3 455.5 766.6 457.4 768.9 C459.4 771.2 459.7 773 466.4 774 C473.1 775.1 485.3 775.7 502.1 776.1 C519 776.5 556.3 776.5 578.7 776.6 C601.1 776.7 640.6 776.6 651.5 776.6" fill="none" stroke="#c00000" stroke-width="4.1" stroke-dasharray="4.2 4.4"/>
<line x1="72.4" y1="777" x2="72.4" y2="846" stroke="#c00000" stroke-width="1.2" stroke-dasharray="3 3"/>
<path d="M74.4 779.5 C82.4 779.4 104.4 779 127.7 778.6 C151 778.3 206.8 777.7 229.8 777.4 C252.8 777.1 271.3 776.7 280.9 776.6 C290.4 776.5 290.6 776.4 293.6 776.9 C296.7 777.3 298.6 778.4 301.3 779.7 C304 781 309.1 785.1 311.5 785.5 C313.9 785.9 316 785.5 317.4 782.2 C318.7 779 319.8 772.3 320.7 763.8 C321.6 755.3 322.3 735.9 323.2 725.5 C324.2 715.2 325.8 709.3 326.8 694.7 C327.8 680.1 329.2 644.8 330.1 628.3 C331.1 611.8 332.2 594.8 333.2 584.9 C334.2 575 335.7 566.8 337 562.4 C338.4 558 340.5 555.7 342.1 555.5 C343.7 555.4 345.9 557.8 347.7 561.4 C349.6 565 352.4 572.1 354.4 579.8 C356.3 587.5 358.9 601.1 360.8 613 C362.7 624.9 365.4 646.3 367.1 658.9 C368.9 671.6 370.9 687.2 372.3 697.2 C373.6 707.2 374.9 717.5 376.1 725.5 C377.2 733.6 378.8 744.4 379.9 751.1 C381.1 757.8 382.2 765.7 383.7 770.2 C385.3 774.7 387.2 778.8 390.1 781.2 C393.1 783.6 398.9 785.4 403.4 786.3 C407.9 787.2 412.9 787.5 420 787.3 C427.1 787.1 434.9 785 451.1 784.8 C467.2 784.5 504.7 785.1 527.7 785.5 C550.6 785.9 588.9 787.1 604.3 787.3 C619.6 787.5 623.9 787.3 629.8 786.8 C635.7 786.3 641.2 784.3 643.8 783.7 C646.4 783.2 646.7 783.1 647.1 783" fill="none" stroke="#000" stroke-width="4.3" />
<path d="M262.7 777.9 C263.1 774 264.8 758.7 265.7 751.7 C266.6 744.7 268 737.6 268.7 731.6 C269.5 725.5 270.1 717.4 270.7 711.4 C271.3 705.4 272.1 697 272.8 691.3 C273.4 685.5 274.2 678.3 274.8 673.1 C275.4 668 276 662.1 276.8 657 C277.5 651.9 278.9 643.7 279.8 638.9 C280.7 634 281.9 628.2 282.8 624.8 C283.7 621.3 285 617.5 285.8 615.7 C286.7 613.9 287.7 612.9 288.5 613.1 C289.2 613.2 290.2 614.4 290.9 616.7 C291.6 619.1 292.5 624 293.3 628.8 C294.1 633.6 295.1 642.6 295.9 648.9 C296.8 655.3 298 664.8 298.9 671.1 C299.9 677.5 301.1 685.5 302 691.3 C302.9 697 304.1 704.6 305 709.4 C305.9 714.2 307.1 720.2 308 723.5 C308.9 726.8 310 729.4 311 731.6 C312.1 733.7 313.7 735.8 315.1 737.6 C316.4 739.4 319.3 742.7 320.1 743.6" fill="none" stroke="#0070c0" stroke-width="4" />
<line x1="183.8" y1="656" x2="183.8" y2="845" stroke="#4492d8" stroke-width="3.5" stroke-dasharray="3.6 3.8"/>
<line x1="462.6" y1="657" x2="462.6" y2="845" stroke="#4492d8" stroke-width="3.5" stroke-dasharray="3.6 3.8"/>
<rect x="74.4" y="506.6" width="573.3" height="339.3" fill="none" stroke="#000" stroke-width="4.6" stroke-linejoin="round"/>
<line x1="646.4" y1="786" x2="646.4" y2="846" stroke="#000" stroke-width="4.3" />
<line x1="649.9" y1="792" x2="649.9" y2="846" stroke="#0070c0" stroke-width="1.8" stroke-linecap="round"/>
<circle cx="648.7" cy="847.1" r="4.3" fill="#000"/>
<path d="M75.3 560.6 C76.7 559.3 79.2 552.5 85.5 551.2 C91.9 549.9 110.2 550 120.8 551.2 C131.3 552.3 152.3 553.5 160.9 559.4 C169.4 565.2 177.8 583.7 182 593.1 C186.3 602.4 187.9 616.3 191 626.3 C194.1 636.2 200.8 652.6 204.3 664 C207.7 675.4 212.5 696.2 215.7 707.7 C219 719.1 222.8 735.8 227.2 746 C231.7 756.1 241.5 770.6 247.7 780.4 C253.8 790.3 265.7 808.8 271.4 816.2 C277.1 823.5 283.3 829.3 288.5 832.8 C293.7 836.3 302.7 839.2 308.4 841.2 C314.1 843.2 323.1 847.2 329.4 846.8 C335.6 846.4 343.9 842.1 353.1 838.4 C362.3 834.7 384.2 826.6 395 820.5 C405.8 814.5 421 803.2 430.1 795.2 C439.3 787.3 451.9 773.1 460.5 763.8 C469.1 754.6 484.1 739.5 491.4 729.4 C498.7 719.2 506.9 698.5 512.3 691.4 C517.8 684.2 524.9 680.6 530.2 678.1 C535.6 675.6 543.3 670.8 550.6 673.5 C558 676.2 576.5 692.3 582.6 697.2 C588.6 702.2 590.6 706.5 594 708.9 C597.4 711.4 603.2 714.4 606.8 714.6 C610.4 714.7 615.9 713 619.6 710.2 C623.2 707.4 628.6 699.8 632.9 694.7 C637.1 689.6 647.8 676.7 650.2 673.7" fill="none" stroke="#c00000" stroke-width="1.4" />
<g fill="#fff" stroke="#c00000" stroke-width="1.6"><circle cx="85.5" cy="551.2" r="7.6"/><circle cx="120.8" cy="551.2" r="7.6"/><circle cx="160.9" cy="559.4" r="7.6"/><circle cx="182" cy="593.1" r="7.6"/><circle cx="191" cy="626.3" r="7.6"/><circle cx="204.3" cy="664" r="7.6"/><circle cx="215.7" cy="707.7" r="7.6"/><circle cx="227.2" cy="746" r="7.6"/><circle cx="247.7" cy="780.4" r="7.6"/><circle cx="271.4" cy="816.2" r="7.6"/><circle cx="308.4" cy="841.2" r="7.6"/><circle cx="353.1" cy="838.4" r="7.6"/><circle cx="395" cy="820.5" r="7.6"/><circle cx="430.1" cy="795.2" r="7.6"/><circle cx="460.5" cy="763.8" r="7.6"/><circle cx="491.4" cy="729.4" r="7.6"/><circle cx="512.3" cy="691.4" r="7.6"/><circle cx="550.6" cy="673.5" r="7.6"/><circle cx="582.6" cy="697.2" r="7.6"/><circle cx="632.9" cy="694.7" r="7.6"/></g>
<path d="M463.8 716.6 C465.3 719.4 468.5 727.8 472.8 733.2 C477 738.6 483.6 744.9 489.4 749 C495.1 753.2 500.9 755.7 507.2 758.2 C513.6 760.7 520 762.3 527.7 763.8 C535.3 765.4 544.7 766.6 553.2 767.7 C561.7 768.7 568.1 769.5 578.7 770.2 C589.4 770.9 604.7 771.5 617 772 C629.4 772.5 646.8 772.9 652.8 773" fill="none" stroke="#7030a0" stroke-width="3.2" stroke-linecap="butt"/><path d="M652.8 773 L635 764.2 L643.8 772.8 L634.5 780.8Z" fill="#7030a0" stroke="none" stroke-width="1" />
<text x="56.5" y="513.5" font-size="21.3" text-anchor="end" font-weight="bold" font-style="normal" fill="#595959" >8</text>
<text x="56.5" y="556" font-size="21.3" text-anchor="end" font-weight="bold" font-style="normal" fill="#595959" >7</text>
<text x="56.5" y="598.4" font-size="21.3" text-anchor="end" font-weight="bold" font-style="normal" fill="#595959" >6</text>
<text x="56.5" y="640.9" font-size="21.3" text-anchor="end" font-weight="bold" font-style="normal" fill="#595959" >5</text>
<text x="56.5" y="683.3" font-size="21.3" text-anchor="end" font-weight="bold" font-style="normal" fill="#595959" >4</text>
<text x="56.5" y="725.8" font-size="21.3" text-anchor="end" font-weight="bold" font-style="normal" fill="#595959" >3</text>
<text x="56.5" y="768.2" font-size="21.3" text-anchor="end" font-weight="bold" font-style="normal" fill="#595959" >2</text>
<text x="56.5" y="810.7" font-size="21.3" text-anchor="end" font-weight="bold" font-style="normal" fill="#595959" >1</text>
<text x="56.5" y="853.1" font-size="21.3" text-anchor="end" font-weight="bold" font-style="normal" fill="#595959" >0</text>
<text x="74" y="879.8" font-size="21.3" text-anchor="middle" font-weight="bold" font-style="normal" fill="#000" >-12</text>
<text x="217.4" y="879.8" font-size="21.3" text-anchor="middle" font-weight="bold" font-style="normal" fill="#000" >-10</text>
<text x="360.8" y="879.8" font-size="21.3" text-anchor="middle" font-weight="bold" font-style="normal" fill="#000" >-8</text>
<text x="504.2" y="879.8" font-size="21.3" text-anchor="middle" font-weight="bold" font-style="normal" fill="#000" >-6</text>
<text x="647.6" y="879.8" font-size="21.3" text-anchor="middle" font-weight="bold" font-style="normal" fill="#000" >-4</text>
<text x="668.6" y="514.2" font-size="21.3" text-anchor="start" font-weight="bold" font-style="normal" fill="#000" >1.20E+06</text>
<text x="668.6" y="570.8" font-size="21.3" text-anchor="start" font-weight="bold" font-style="normal" fill="#000" >1.00E+06</text>
<text x="668.6" y="627.4" font-size="21.3" text-anchor="start" font-weight="bold" font-style="normal" fill="#000" >8.00E+05</text>
<text x="668.6" y="684" font-size="21.3" text-anchor="start" font-weight="bold" font-style="normal" fill="#000" >6.00E+05</text>
<text x="668.6" y="740.6" font-size="21.3" text-anchor="start" font-weight="bold" font-style="normal" fill="#000" >4.00E+05</text>
<text x="668.6" y="797.2" font-size="21.3" text-anchor="start" font-weight="bold" font-style="normal" fill="#000" >2.00E+05</text>
<text x="668.6" y="853.8" font-size="21.3" text-anchor="start" font-weight="bold" font-style="normal" fill="#000" >0.00E+00</text>
<text x="374.5" y="915.3" font-size="21.3" text-anchor="middle" font-weight="bold" font-style="normal" fill="#000" >Fermi Energy (eV)</text>
<text x="15" y="686" font-size="21.4" text-anchor="middle" font-weight="bold" font-style="normal" fill="#000" transform="rotate(-90 15 686)" >Conductivity Enhancement factor</text>
<text x="783" y="711" font-size="21.4" text-anchor="middle" font-weight="bold" font-style="normal" fill="#000" transform="rotate(-90 783 711)" >Electrical Conductivity (S/m)</text>
<text x="98.5" y="535" font-size="21.3" text-anchor="start" font-weight="bold" font-style="normal" fill="#000" >(c)</text>
<text x="516" y="534.5" font-size="18.3" text-anchor="start" font-weight="bold" font-style="normal" fill="#000" >1% Ga doping</text>
<text x="516" y="564.5" font-size="18.3" text-anchor="start" font-weight="bold" font-style="normal" fill="#000" >3% Ga doping</text>
<text x="516" y="592" font-size="18.3" text-anchor="start" font-weight="bold" font-style="normal" fill="#000" >5% Ga doping</text>
<line x1="478.6" y1="530.8" x2="510.3" y2="530.8" stroke="#8faadc" stroke-width="4.4" />
<line x1="478.6" y1="559.4" x2="510.3" y2="559.4" stroke="#000" stroke-width="4.4" />
<line x1="478.6" y1="587.6" x2="510.3" y2="587.6" stroke="#c00000" stroke-width="4.6" stroke-dasharray="4.6 4.3"/>
</g>
<g id="panel-d">
<path d="M928.7 816 C941.3 816 995.4 816.1 1018.7 816.2 C1042.1 816.2 1081.4 816.2 1095.3 816.2 C1109.3 816.1 1113.7 815.8 1118.3 815.7 C1122.9 815.5 1126 815.4 1128.5 814.9 C1131 814.4 1134.2 813.8 1136.2 812.3 C1138.1 810.9 1140.9 807 1142.6 804.7 C1144.2 802.4 1146.1 798.1 1147.7 795.7 C1149.3 793.4 1152.1 788.9 1154 788.1 C1155.9 787.3 1159.6 790.2 1161.2 789.9 C1162.8 789.5 1164.2 787.4 1165.5 785.5 C1166.9 783.7 1168.9 779.2 1170.6 776.6 C1172.4 774 1176.5 767.5 1178.3 766.9 C1180.1 766.3 1181.8 770.7 1183.4 772 C1185 773.3 1188 775.5 1189.8 776.1 C1191.6 776.7 1194.6 775.3 1196.2 776.1 C1197.7 776.9 1199.5 778.9 1200.8 781.7 C1202 784.5 1204 792.9 1205.1 795.7 C1206.3 798.6 1207.8 802.5 1208.9 802.1 C1210.1 801.8 1211.8 795.3 1213.3 793.2 C1214.7 791.1 1217.7 787 1219.1 787.3 C1220.6 787.7 1222.4 792.8 1223.7 795.7 C1225.1 798.7 1227.2 806 1228.9 808.5 C1230.5 811 1233 812.7 1235.7 813.6 C1238.5 814.5 1245.1 814.7 1248.5 814.9 C1251.9 815.1 1238.8 814.9 1260 814.9 C1281.2 814.9 1367.2 815 1400 815 C1432.8 815 1481.3 815 1494.5 815 L1494.5 844.8 L928.7 844.8 Z" fill="#ddebf7" stroke="none" stroke-width="1" />
<path d="M928.7 776 C941.3 776 995.4 776.1 1018.7 776.1 C1042.1 776.1 1081.4 776.1 1095.3 776.1 C1109.3 776 1113.8 775.9 1118.3 775.8 C1122.8 775.7 1124.7 775.7 1127.2 775.3 C1129.7 774.9 1133.9 774.4 1136.2 772.8 C1138.4 771.2 1141.4 766.7 1143.3 763.8 C1145.2 761 1147.8 754.4 1149.7 752.3 C1151.6 750.3 1154.6 749.6 1156.6 749 C1158.6 748.4 1161.9 749.4 1163.7 748 C1165.6 746.6 1168.1 742 1170.1 738.8 C1172.2 735.7 1176.3 726.4 1178.3 725.5 C1180.3 724.7 1182.9 730.7 1184.7 732.7 C1186.5 734.6 1189.3 739.3 1191.1 739.6 C1192.8 739.8 1195.6 737.1 1196.9 734.5 C1198.3 731.8 1199.7 724.5 1200.5 720.4 C1201.4 716.3 1202.5 709.8 1203.1 705.1 C1203.6 700.4 1204.1 690.3 1204.6 687 C1205.1 683.8 1205.9 681.9 1206.4 681.9 C1206.9 681.9 1207.7 683.8 1208.2 687 C1208.6 690.3 1209.1 699.4 1209.7 705.1 C1210.3 710.9 1211.5 722.9 1212.3 728.1 C1213 733.3 1214.2 741.2 1215.3 742.1 C1216.4 743 1218.6 738 1219.9 734.5 C1221.3 730.9 1223.7 720.1 1225 716.6 C1226.3 713.1 1228 709.8 1229.4 709.7 C1230.7 709.6 1233 713.3 1234.5 715.8 C1235.9 718.4 1238.1 724.6 1239.6 728.1 C1241 731.6 1243.1 738.1 1244.7 740.9 C1246.3 743.6 1249.5 747.1 1251.1 748 C1252.7 748.9 1255.4 747.3 1256.2 747.2 C1257 747.1 1256.3 746.7 1256.9 747.2 C1257.6 747.8 1259.5 749.1 1260.7 751.1 C1262 753 1264.1 758.1 1265.9 761.3 C1267.6 764.5 1271 771.5 1273.5 774 C1276 776.5 1280.5 778.3 1283.7 779.1 C1286.9 780 1290.4 780.2 1296.5 780.4 C1302.6 780.6 1299.4 780.4 1327.1 780.4 C1354.8 780.4 1471.1 780.4 1494.5 780.4 L1494.5 815 C1481.3 815 1432.8 815 1400 815 C1367.2 815 1281.2 814.9 1260 814.9 C1238.8 814.9 1251.9 815.1 1248.5 814.9 C1245.1 814.7 1238.5 814.5 1235.7 813.6 C1233 812.7 1230.5 811 1228.9 808.5 C1227.2 806 1225.1 798.7 1223.7 795.7 C1222.4 792.8 1220.6 787.7 1219.1 787.3 C1217.7 787 1214.7 791.1 1213.3 793.2 C1211.8 795.3 1210.1 801.8 1208.9 802.1 C1207.8 802.5 1206.3 798.6 1205.1 795.7 C1204 792.9 1202 784.5 1200.8 781.7 C1199.5 778.9 1197.7 776.9 1196.2 776.1 C1194.6 775.3 1191.6 776.7 1189.8 776.1 C1188 775.5 1185 773.3 1183.4 772 C1181.8 770.7 1180.1 766.3 1178.3 766.9 C1176.5 767.5 1172.4 774 1170.6 776.6 C1168.9 779.2 1166.9 783.7 1165.5 785.5 C1164.2 787.4 1162.8 789.5 1161.2 789.9 C1159.6 790.2 1155.9 787.3 1154 788.1 C1152.1 788.9 1149.3 793.4 1147.7 795.7 C1146.1 798.1 1144.2 802.4 1142.6 804.7 C1140.9 807 1138.1 810.9 1136.2 812.3 C1134.2 813.8 1131 814.4 1128.5 814.9 C1126 815.4 1122.9 815.5 1118.3 815.7 C1113.7 815.8 1109.3 816.1 1095.3 816.2 C1081.4 816.2 1042.1 816.2 1018.7 816.2 C995.4 816.1 941.3 816 928.7 816Z" fill="#f8cbad" stroke="none" stroke-width="1" />
<path d="M928.7 737.5 C937.7 737.5 975.9 737.5 993.2 737.5 C1010.4 737.5 1041.2 737.8 1051.9 737.5 C1062.6 737.3 1065.9 736.7 1069.8 735.7 C1073.7 734.8 1077.7 732.4 1080 730.6 C1082.3 728.9 1084.6 725.7 1086.4 723 C1088.2 720.3 1091.2 714 1092.8 711.5 C1094.4 709 1096.3 706.2 1097.9 705.1 C1099.5 704 1102.8 706 1104.3 703.8 C1105.7 701.7 1106.7 693.7 1108.1 689.6 C1109.5 685.4 1112.7 679.3 1114.5 674.3 C1116.3 669.3 1118.9 658.5 1120.9 653.8 C1122.8 649.2 1126.4 644.3 1128.5 641.1 C1130.7 637.8 1134 633.8 1136.2 630.9 C1138.3 627.9 1141.9 623.7 1143.8 620.1 C1145.8 616.6 1148.6 607.9 1150.2 605.3 C1151.8 602.7 1153.5 601.9 1155.3 601.5 C1157.1 601.1 1161 603 1163 602.3 C1164.9 601.5 1167.8 597.6 1169.4 596.4 C1170.9 595.2 1172.7 593.3 1174 593.8 C1175.2 594.4 1177 596.1 1178.3 600.2 C1179.6 604.3 1182 616.4 1183.4 623.2 C1184.8 630 1187.3 644.7 1188.5 648.7 C1189.7 652.7 1190.8 653.6 1191.8 651.8 C1192.9 650 1194.9 647.1 1196.2 636 C1197.4 624.8 1199.7 587.9 1200.8 572.1 C1201.9 556.4 1203.2 531.7 1204.1 523.6 C1204.9 515.6 1206.1 513.3 1206.9 514.7 C1207.7 516.1 1208.9 522.2 1209.7 533.8 C1210.5 545.4 1211.9 581.9 1212.8 597.7 C1213.6 613.4 1214.9 638.5 1215.6 646.2 C1216.3 653.9 1217.2 653.6 1217.9 652.6 C1218.6 651.5 1219.7 649.1 1220.7 638.5 C1221.7 628 1223.9 590.1 1225 577.2 C1226.1 564.4 1227.5 552.1 1228.6 546.6 C1229.7 541.1 1231.8 538 1233.2 537.7 C1234.5 537.3 1236.5 540.6 1238.3 544 C1240.1 547.4 1244.2 558.5 1246 561.9 C1247.7 565.3 1249.6 567.6 1251.1 568.3 C1252.5 569 1255.4 567.2 1256.2 567 C1257 566.8 1255.9 565.6 1256.9 567 C1257.9 568.5 1261.2 573.3 1263.3 577.2 C1265.4 581.2 1269.4 591.2 1272.2 595.1 C1275.1 599 1280.9 601.7 1283.7 605.3 C1286.6 608.9 1290.5 616 1292.7 620.6 C1294.8 625.3 1297.4 632.8 1299 638.5 C1300.7 644.2 1302.6 654.7 1304.1 661.5 C1305.7 668.3 1308.2 681.5 1309.8 687 C1311.4 692.6 1313.9 698.8 1315.6 701.3 C1317.4 703.7 1320.4 703 1322 704.6 C1323.6 706.2 1325.7 709.8 1327.1 712.8 C1328.6 715.7 1330.6 722.5 1332.2 725.5 C1333.8 728.6 1336.5 732.6 1338.6 734.5 C1340.8 736.3 1344.9 738 1347.6 738.8 C1350.2 739.6 1349.9 739.9 1357.8 740.1 C1365.6 740.3 1384.6 740.1 1403.7 740.1 C1422.9 740.1 1481.8 740 1494.5 740 L1494.5 780.4 C1471.1 780.4 1354.8 780.4 1327.1 780.4 C1299.4 780.4 1302.6 780.6 1296.5 780.4 C1290.4 780.2 1286.9 780 1283.7 779.1 C1280.5 778.3 1276 776.5 1273.5 774 C1271 771.5 1267.6 764.5 1265.9 761.3 C1264.1 758.1 1262 753 1260.7 751.1 C1259.5 749.1 1257.6 747.8 1256.9 747.2 C1256.3 746.7 1257 747.1 1256.2 747.2 C1255.4 747.3 1252.7 748.9 1251.1 748 C1249.5 747.1 1246.3 743.6 1244.7 740.9 C1243.1 738.1 1241 731.6 1239.6 728.1 C1238.1 724.6 1235.9 718.4 1234.5 715.8 C1233 713.3 1230.7 709.6 1229.4 709.7 C1228 709.8 1226.3 713.1 1225 716.6 C1223.7 720.1 1221.3 730.9 1219.9 734.5 C1218.6 738 1216.4 743 1215.3 742.1 C1214.2 741.2 1213 733.3 1212.3 728.1 C1211.5 722.9 1210.3 710.9 1209.7 705.1 C1209.1 699.4 1208.6 690.3 1208.2 687 C1207.7 683.8 1206.9 681.9 1206.4 681.9 C1205.9 681.9 1205.1 683.8 1204.6 687 C1204.1 690.3 1203.6 700.4 1203.1 705.1 C1202.5 709.8 1201.4 716.3 1200.5 720.4 C1199.7 724.5 1198.3 731.8 1196.9 734.5 C1195.6 737.1 1192.8 739.8 1191.1 739.6 C1189.3 739.3 1186.5 734.6 1184.7 732.7 C1182.9 730.7 1180.3 724.7 1178.3 725.5 C1176.3 726.4 1172.2 735.7 1170.1 738.8 C1168.1 742 1165.6 746.6 1163.7 748 C1161.9 749.4 1158.6 748.4 1156.6 749 C1154.6 749.6 1151.6 750.3 1149.7 752.3 C1147.8 754.4 1145.2 761 1143.3 763.8 C1141.4 766.7 1138.4 771.2 1136.2 772.8 C1133.9 774.4 1129.7 774.9 1127.2 775.3 C1124.7 775.7 1122.8 775.7 1118.3 775.8 C1113.8 775.9 1109.3 776 1095.3 776.1 C1081.4 776.1 1042.1 776.1 1018.7 776.1 C995.4 776.1 941.3 776 928.7 776Z" fill="#c5e0b4" stroke="none" stroke-width="1" />
<path d="M928.7 816 C941.3 816 995.4 816.1 1018.7 816.2 C1042.1 816.2 1081.4 816.2 1095.3 816.2 C1109.3 816.1 1113.7 815.8 1118.3 815.7 C1122.9 815.5 1126 815.4 1128.5 814.9 C1131 814.4 1134.2 813.8 1136.2 812.3 C1138.1 810.9 1140.9 807 1142.6 804.7 C1144.2 802.4 1146.1 798.1 1147.7 795.7 C1149.3 793.4 1152.1 788.9 1154 788.1 C1155.9 787.3 1159.6 790.2 1161.2 789.9 C1162.8 789.5 1164.2 787.4 1165.5 785.5 C1166.9 783.7 1168.9 779.2 1170.6 776.6 C1172.4 774 1176.5 767.5 1178.3 766.9 C1180.1 766.3 1181.8 770.7 1183.4 772 C1185 773.3 1188 775.5 1189.8 776.1 C1191.6 776.7 1194.6 775.3 1196.2 776.1 C1197.7 776.9 1199.5 778.9 1200.8 781.7 C1202 784.5 1204 792.9 1205.1 795.7 C1206.3 798.6 1207.8 802.5 1208.9 802.1 C1210.1 801.8 1211.8 795.3 1213.3 793.2 C1214.7 791.1 1217.7 787 1219.1 787.3 C1220.6 787.7 1222.4 792.8 1223.7 795.7 C1225.1 798.7 1227.2 806 1228.9 808.5 C1230.5 811 1233 812.7 1235.7 813.6 C1238.5 814.5 1245.1 814.7 1248.5 814.9 C1251.9 815.1 1238.8 814.9 1260 814.9 C1281.2 814.9 1367.2 815 1400 815 C1432.8 815 1481.3 815 1494.5 815" fill="none" stroke="#c00000" stroke-width="4.8" stroke-linejoin="round"/>
<path d="M928.7 776 C941.3 776 995.4 776.1 1018.7 776.1 C1042.1 776.1 1081.4 776.1 1095.3 776.1 C1109.3 776 1113.8 775.9 1118.3 775.8 C1122.8 775.7 1124.7 775.7 1127.2 775.3 C1129.7 774.9 1133.9 774.4 1136.2 772.8 C1138.4 771.2 1141.4 766.7 1143.3 763.8 C1145.2 761 1147.8 754.4 1149.7 752.3 C1151.6 750.3 1154.6 749.6 1156.6 749 C1158.6 748.4 1161.9 749.4 1163.7 748 C1165.6 746.6 1168.1 742 1170.1 738.8 C1172.2 735.7 1176.3 726.4 1178.3 725.5 C1180.3 724.7 1182.9 730.7 1184.7 732.7 C1186.5 734.6 1189.3 739.3 1191.1 739.6 C1192.8 739.8 1195.6 737.1 1196.9 734.5 C1198.3 731.8 1199.7 724.5 1200.5 720.4 C1201.4 716.3 1202.5 709.8 1203.1 705.1 C1203.6 700.4 1204.1 690.3 1204.6 687 C1205.1 683.8 1205.9 681.9 1206.4 681.9 C1206.9 681.9 1207.7 683.8 1208.2 687 C1208.6 690.3 1209.1 699.4 1209.7 705.1 C1210.3 710.9 1211.5 722.9 1212.3 728.1 C1213 733.3 1214.2 741.2 1215.3 742.1 C1216.4 743 1218.6 738 1219.9 734.5 C1221.3 730.9 1223.7 720.1 1225 716.6 C1226.3 713.1 1228 709.8 1229.4 709.7 C1230.7 709.6 1233 713.3 1234.5 715.8 C1235.9 718.4 1238.1 724.6 1239.6 728.1 C1241 731.6 1243.1 738.1 1244.7 740.9 C1246.3 743.6 1249.5 747.1 1251.1 748 C1252.7 748.9 1255.4 747.3 1256.2 747.2 C1257 747.1 1256.3 746.7 1256.9 747.2 C1257.6 747.8 1259.5 749.1 1260.7 751.1 C1262 753 1264.1 758.1 1265.9 761.3 C1267.6 764.5 1271 771.5 1273.5 774 C1276 776.5 1280.5 778.3 1283.7 779.1 C1286.9 780 1290.4 780.2 1296.5 780.4 C1302.6 780.6 1299.4 780.4 1327.1 780.4 C1354.8 780.4 1471.1 780.4 1494.5 780.4" fill="none" stroke="#385723" stroke-width="4.6" stroke-linejoin="round"/>
<path d="M928.7 737.5 C937.7 737.5 975.9 737.5 993.2 737.5 C1010.4 737.5 1041.2 737.8 1051.9 737.5 C1062.6 737.3 1065.9 736.7 1069.8 735.7 C1073.7 734.8 1077.7 732.4 1080 730.6 C1082.3 728.9 1084.6 725.7 1086.4 723 C1088.2 720.3 1091.2 714 1092.8 711.5 C1094.4 709 1096.3 706.2 1097.9 705.1 C1099.5 704 1102.8 706 1104.3 703.8 C1105.7 701.7 1106.7 693.7 1108.1 689.6 C1109.5 685.4 1112.7 679.3 1114.5 674.3 C1116.3 669.3 1118.9 658.5 1120.9 653.8 C1122.8 649.2 1126.4 644.3 1128.5 641.1 C1130.7 637.8 1134 633.8 1136.2 630.9 C1138.3 627.9 1141.9 623.7 1143.8 620.1 C1145.8 616.6 1148.6 607.9 1150.2 605.3 C1151.8 602.7 1153.5 601.9 1155.3 601.5 C1157.1 601.1 1161 603 1163 602.3 C1164.9 601.5 1167.8 597.6 1169.4 596.4 C1170.9 595.2 1172.7 593.3 1174 593.8 C1175.2 594.4 1177 596.1 1178.3 600.2 C1179.6 604.3 1182 616.4 1183.4 623.2 C1184.8 630 1187.3 644.7 1188.5 648.7 C1189.7 652.7 1190.8 653.6 1191.8 651.8 C1192.9 650 1194.9 647.1 1196.2 636 C1197.4 624.8 1199.7 587.9 1200.8 572.1 C1201.9 556.4 1203.2 531.7 1204.1 523.6 C1204.9 515.6 1206.1 513.3 1206.9 514.7 C1207.7 516.1 1208.9 522.2 1209.7 533.8 C1210.5 545.4 1211.9 581.9 1212.8 597.7 C1213.6 613.4 1214.9 638.5 1215.6 646.2 C1216.3 653.9 1217.2 653.6 1217.9 652.6 C1218.6 651.5 1219.7 649.1 1220.7 638.5 C1221.7 628 1223.9 590.1 1225 577.2 C1226.1 564.4 1227.5 552.1 1228.6 546.6 C1229.7 541.1 1231.8 538 1233.2 537.7 C1234.5 537.3 1236.5 540.6 1238.3 544 C1240.1 547.4 1244.2 558.5 1246 561.9 C1247.7 565.3 1249.6 567.6 1251.1 568.3 C1252.5 569 1255.4 567.2 1256.2 567 C1257 566.8 1255.9 565.6 1256.9 567 C1257.9 568.5 1261.2 573.3 1263.3 577.2 C1265.4 581.2 1269.4 591.2 1272.2 595.1 C1275.1 599 1280.9 601.7 1283.7 605.3 C1286.6 608.9 1290.5 616 1292.7 620.6 C1294.8 625.3 1297.4 632.8 1299 638.5 C1300.7 644.2 1302.6 654.7 1304.1 661.5 C1305.7 668.3 1308.2 681.5 1309.8 687 C1311.4 692.6 1313.9 698.8 1315.6 701.3 C1317.4 703.7 1320.4 703 1322 704.6 C1323.6 706.2 1325.7 709.8 1327.1 712.8 C1328.6 715.7 1330.6 722.5 1332.2 725.5 C1333.8 728.6 1336.5 732.6 1338.6 734.5 C1340.8 736.3 1344.9 738 1347.6 738.8 C1350.2 739.6 1349.9 739.9 1357.8 740.1 C1365.6 740.3 1384.6 740.1 1403.7 740.1 C1422.9 740.1 1481.8 740 1494.5 740" fill="none" stroke="#385723" stroke-width="4.6" stroke-linejoin="round"/>
<line x1="1086" y1="655" x2="1086" y2="843" stroke="#4492d8" stroke-width="3.5" stroke-dasharray="3.6 3.8"/>
<line x1="1349.6" y1="652.5" x2="1349.6" y2="843" stroke="#4492d8" stroke-width="3.5" stroke-dasharray="3.6 3.8"/>
<rect x="928.7" y="497.4" width="565.8" height="347.4" fill="none" stroke="#000" stroke-width="4.6" stroke-linejoin="round"/>
<line x1="931" y1="844.2" x2="1494.5" y2="844.2" stroke="#0070c0" stroke-width="3.2" />
<line x1="1493.6" y1="817" x2="1493.6" y2="845.8" stroke="#0070c0" stroke-width="3.4" />
<line x1="1493.6" y1="782" x2="1493.6" y2="815" stroke="#c00000" stroke-width="3.4" />
<line x1="1493.6" y1="738" x2="1493.6" y2="782" stroke="#385723" stroke-width="3.4" />
<path d="M928.6 557.3 C931.3 557.6 939.6 563.1 948 559.4 C956.4 555.6 978.7 537.8 988.6 530.8 C998.5 523.7 1012.3 511.6 1018.7 508.8 C1025.2 506 1030.5 510.4 1034.8 510.9 C1039.1 511.3 1043.9 509.1 1049.4 512.1 C1054.8 515.2 1067.8 524.5 1073.6 532.6 C1079.4 540.6 1086.6 557.7 1091 569.6 C1095.4 581.5 1101.6 604 1105 617.6 C1108.5 631.2 1112 653.4 1115.7 666.6 C1119.5 679.7 1127.4 699.2 1131.6 711.5 C1135.8 723.7 1140.6 741.7 1145.6 754.1 C1150.7 766.5 1160.1 789.1 1167.6 800.1 C1175 811.1 1192.8 827.5 1198.7 832.8 C1204.7 838.1 1206.8 837.3 1210.2 837.9 C1213.6 838.4 1219 836.6 1223 836.6 C1226.9 836.6 1234 838.8 1238.3 837.9 C1242.6 837 1245.4 835 1253.6 830.2 C1261.9 825.4 1286 812.7 1297.3 803.4 C1308.5 794.1 1324.7 775.4 1334.3 763.8 C1343.9 752.3 1358.1 732.8 1365.9 720.9 C1373.8 709 1382 688.5 1390.4 678.9 C1398.9 669.2 1418.6 653.9 1426.2 651.8 C1433.8 649.7 1439.3 660.8 1444.6 664 C1449.8 667.3 1458.7 672.9 1463.7 675 C1468.7 677.2 1476 679.5 1480.3 679.4 C1484.6 679.3 1492.4 675 1494.4 674.3" fill="none" stroke="#c00000" stroke-width="1.4" />
<g fill="#fff" stroke="#c00000" stroke-width="1.6"><circle cx="948" cy="559.4" r="7.6"/><circle cx="988.6" cy="530.8" r="7.6"/><circle cx="1034.8" cy="510.9" r="7.6"/><circle cx="1073.6" cy="532.6" r="7.6"/><circle cx="1091" cy="569.6" r="7.6"/><circle cx="1105" cy="617.6" r="7.6"/><circle cx="1115.7" cy="666.6" r="7.6"/><circle cx="1131.6" cy="711.5" r="7.6"/><circle cx="1145.6" cy="754.1" r="7.6"/><circle cx="1167.6" cy="800.1" r="7.6"/><circle cx="1198.7" cy="832.8" r="7.6"/><circle cx="1253.6" cy="830.2" r="7.6"/><circle cx="1297.3" cy="803.4" r="7.6"/><circle cx="1334.3" cy="763.8" r="7.6"/><circle cx="1365.9" cy="720.9" r="7.6"/><circle cx="1390.4" cy="678.9" r="7.6"/><circle cx="1426.2" cy="651.8" r="7.6"/><circle cx="1463.7" cy="675" r="7.6"/></g>
<path d="M1399.4 673 C1400.5 675.3 1403.6 682.3 1406.3 687 C1408.9 691.7 1411.4 697.8 1415.2 701.3 C1419 704.8 1424.4 706.5 1429.3 708.2 C1434.1 709.9 1439 710.6 1444.6 711.5 C1450.1 712.4 1453.6 713.1 1462.4 713.8 C1471.3 714.5 1491.8 715.5 1497.7 715.8" fill="none" stroke="#7030a0" stroke-width="3.2" stroke-linecap="butt"/><path d="M1497.7 715.8 L1480.2 706.5 L1488.7 715.3 L1479.2 723.1Z" fill="#7030a0" stroke="none" stroke-width="1" />
<text x="910.8" y="503.9" font-size="21.3" text-anchor="end" font-weight="bold" font-style="normal" fill="#000" >14</text>
<text x="910.8" y="553.5" font-size="21.3" text-anchor="end" font-weight="bold" font-style="normal" fill="#000" >12</text>
<text x="910.8" y="603.2" font-size="21.3" text-anchor="end" font-weight="bold" font-style="normal" fill="#000" >10</text>
<text x="910.8" y="652.8" font-size="21.3" text-anchor="end" font-weight="bold" font-style="normal" fill="#000" >8</text>
<text x="910.8" y="702.5" font-size="21.3" text-anchor="end" font-weight="bold" font-style="normal" fill="#000" >6</text>
<text x="910.8" y="752.1" font-size="21.3" text-anchor="end" font-weight="bold" font-style="normal" fill="#000" >4</text>
<text x="910.8" y="801.8" font-size="21.3" text-anchor="end" font-weight="bold" font-style="normal" fill="#000" >2</text>
<text x="910.8" y="851.5" font-size="21.3" text-anchor="end" font-weight="bold" font-style="normal" fill="#000" >0</text>
<text x="926.8" y="871.9" font-size="21.3" text-anchor="middle" font-weight="bold" font-style="normal" fill="#000" >-13</text>
<text x="1057.8" y="871.9" font-size="21.3" text-anchor="middle" font-weight="bold" font-style="normal" fill="#000" >-11</text>
<text x="1188.8" y="871.9" font-size="21.3" text-anchor="middle" font-weight="bold" font-style="normal" fill="#000" >-9</text>
<text x="1319.8" y="871.9" font-size="21.3" text-anchor="middle" font-weight="bold" font-style="normal" fill="#000" >-7</text>
<text x="1450.8" y="871.9" font-size="21.3" text-anchor="middle" font-weight="bold" font-style="normal" fill="#000" >-5</text>
<text x="1516.3" y="501.3" font-size="21.3" text-anchor="start" font-weight="bold" font-style="normal" fill="#000" >8.00</text>
<text x="1516.3" y="542.9" font-size="21.3" text-anchor="start" font-weight="bold" font-style="normal" fill="#000" >7.00</text>
<text x="1515.8" y="589.6" font-size="21.3" text-anchor="start" font-weight="bold" font-style="normal" fill="#000" >6.00</text>
<text x="1515.3" y="635.7" font-size="21.3" text-anchor="start" font-weight="bold" font-style="normal" fill="#000" >5.00</text>
<text x="1515" y="673.6" font-size="21.3" text-anchor="start" font-weight="bold" font-style="normal" fill="#000" >4.00</text>
<text x="1514" y="718" font-size="21.3" text-anchor="start" font-weight="bold" font-style="normal" fill="#000" >3.00</text>
<text x="1513.2" y="762.7" font-size="21.3" text-anchor="start" font-weight="bold" font-style="normal" fill="#000" >2.00</text>
<text x="1514.5" y="807.1" font-size="21.3" text-anchor="start" font-weight="bold" font-style="normal" fill="#000" >1.00</text>
<text x="1514" y="851.1" font-size="21.3" text-anchor="start" font-weight="bold" font-style="normal" fill="#000" >0.00</text>
<text x="1214.7" y="910.5" font-size="21.3" text-anchor="middle" font-weight="bold" font-style="normal" fill="#000" >Fermi Energy (eV)</text>
<text x="856" y="670" font-size="21.4" text-anchor="middle" font-weight="bold" font-style="normal" fill="#000" transform="rotate(-90 856 670)" >Electronic thermal conductivity</text>
<text x="880.5" y="670" font-size="21.4" text-anchor="middle" font-weight="bold" font-style="normal" fill="#000" transform="rotate(-90 880.5 670)" >Enhancement</text>
<text x="1630" y="673" font-size="21.4" text-anchor="middle" font-weight="bold" font-style="normal" fill="#000" transform="rotate(-90 1630 673)" >Electrical thermal conductivity (W/m-K)</text>
<text x="956" y="523" font-size="21.3" text-anchor="start" font-weight="bold" font-style="normal" fill="#000" >(d)</text>
<text x="1375.6" y="535.6" font-size="18.3" text-anchor="start" font-weight="bold" font-style="normal" fill="#000" >1% Ga doping</text>
<rect x="1349.4" y="524.3" width="7.8" height="7.8" rx="1.5" fill="#fff" stroke="#0070c0" stroke-width="4.7"/>
<text x="1375.6" y="584.9" font-size="18.3" text-anchor="start" font-weight="bold" font-style="normal" fill="#000" >3% Ga doping</text>
<rect x="1349.4" y="573.3" width="7.8" height="7.8" rx="1.5" fill="#fff" stroke="#c00000" stroke-width="4.7"/>
<text x="1375.6" y="629.6" font-size="18.3" text-anchor="start" font-weight="bold" font-style="normal" fill="#000" >5% Ga doping</text>
<rect x="1349.4" y="620.6" width="7.8" height="7.8" rx="1.5" fill="#fff" stroke="#385723" stroke-width="4.7"/>
</g>
<g id="panel-e">
<path d="M72.4 1270.6 C82.2 1270.6 135.6 1270.6 150 1270.6 C164.4 1270.6 180.6 1270.5 185.8 1270.8 C191.1 1271.1 190.7 1271.1 191.7 1272.9 C192.6 1274.8 192.9 1284.1 193.1 1285.7 C193.3 1287.4 193.2 1299.3 193.3 1286 C193.4 1272.7 193.5 1184 193.6 1181 C193.7 1178 193.7 1251.5 194.1 1262 C194.5 1272.5 195.9 1264 196.5 1264 C197.1 1264 198.2 1263.8 198.6 1262 C199 1260.2 199.4 1266.1 199.6 1250 C199.8 1233.9 199.9 1130.4 200 1135 C200.1 1139.6 200.4 1267.9 200.6 1286 C200.8 1304.1 200.4 1279 201.3 1277.5 C202.2 1276 206 1274.3 207.7 1274.4 C209.5 1274.5 212.9 1277 215 1278.4 C217.1 1279.9 222.3 1284.4 224.1 1285.7 C226 1287 228.4 1288.9 229.6 1288.6 C230.8 1288.4 232.3 1285.9 233.3 1283.9 C234.2 1281.9 236 1276.6 236.9 1272.9 C237.8 1269.3 239.7 1258.5 240.5 1254.7 C241.4 1250.9 242.7 1244.9 243.3 1242.9 C243.9 1240.8 244.6 1238.8 245.1 1238.8 C245.6 1238.8 246.4 1240.8 246.9 1242.9 C247.5 1244.9 248.9 1250.4 249.7 1254.7 C250.5 1259 252.3 1272.3 253.3 1276.6 C254.4 1280.9 256.5 1287.9 257.9 1288.6 C259.3 1289.4 262.5 1283.9 264.3 1282.4 C266 1281 269.9 1277.8 271.6 1277 C273.2 1276.1 275.4 1275.4 277 1275.7 C278.6 1276 282.5 1278.1 284.3 1279.3 C286.2 1280.6 290 1284.5 291.6 1285.7 C293.2 1286.9 295.5 1289 296.7 1288.6 C297.9 1288.2 300.1 1283.6 301.1 1282.4 C302.1 1281.3 303.5 1279.1 304.4 1279.3 C305.3 1279.5 307.1 1282.8 308 1283.9 C308.9 1285 310.5 1288.4 311.7 1287.7 C312.8 1287 315.8 1282.6 317.1 1278.4 C318.5 1274.2 321.2 1261.2 322.6 1254.7 C324 1248.2 326.8 1233.6 328.1 1227.4 C329.4 1221.1 331.7 1209.3 332.6 1205.5 C333.6 1201.6 334.8 1196.7 335.4 1196.8 C336.1 1196.8 337.2 1201.8 337.9 1205.9 C338.6 1210 340.4 1223.6 341.2 1229 C342 1234.5 343.5 1244.3 344.5 1248.9 C345.6 1253.5 348.3 1263.3 349.5 1265.4 C350.6 1267.5 352.8 1267.5 353.6 1265.4 C354.4 1263.3 355.5 1251 355.8 1248.9 L358 1022 L362 1022 L364 1215.8 C364.2 1217.9 364.7 1228.1 365.2 1232.3 C365.7 1236.5 366.7 1244.9 367.7 1248.9 C368.6 1252.9 371.2 1261 372.6 1263.8 C374.1 1266.5 377.6 1268.5 379.3 1270.4 C380.9 1272.3 384.2 1276.4 385.9 1278.7 C387.5 1281 391.2 1288.2 392.5 1288.6 C393.7 1289 395 1284.9 395.8 1282 C396.6 1279 398.3 1268.4 399.1 1265.4 C399.9 1262.5 401.2 1258.6 401.9 1258.8 C402.7 1259 404 1264.1 404.9 1267.1 C405.8 1270 408.1 1279.3 409 1282 C410 1284.6 411.1 1288.3 412.3 1288.1 C413.6 1287.9 417.3 1281.9 419 1280.3 C420.6 1278.7 423.9 1276.2 425.6 1275.4 C427.3 1274.5 430.5 1273.6 432.2 1273.7 C433.9 1273.8 437.1 1275.1 438.8 1276.2 C440.5 1277.2 444 1280.6 445.4 1282 C446.9 1283.3 449.3 1286.5 450.4 1286.9 C451.4 1287.4 452.9 1288 453.7 1285.3 C454.5 1282.6 456.2 1274.2 457 1265.4 C457.8 1256.6 459.5 1230.5 460.3 1215.8 C461.2 1201.1 463 1162.6 463.6 1149.6 C464.3 1136.6 464.9 1119 465.3 1113.2 C465.7 1107.5 466.3 1104.1 466.6 1104.1 C466.9 1104.1 467.5 1107.5 467.9 1113.2 C468.4 1119 469.5 1136.6 470.2 1149.6 C471 1162.6 472.8 1201.1 473.5 1215.8 C474.3 1230.5 475.3 1257.3 476 1265.4 C476.7 1273.6 478.4 1277.2 479.1 1280 C479.9 1282.8 480.7 1286.8 481.7 1287.1 C482.7 1287.5 485.2 1284.2 486.8 1282.6 C488.4 1280.9 492.5 1275.7 494.5 1274.4 C496.4 1273 497.9 1272.3 502.1 1271.8 C506.3 1271.4 509.9 1271.2 527.7 1271.1 C545.5 1271 628 1271 642.6 1271 L642.6 1321.8 L72.4 1321.8 Z" fill="#ecbca1" stroke="none" stroke-width="1" />
<path d="M72.4 1270.6 C82.2 1270.6 135.6 1270.6 150 1270.6 C164.4 1270.6 180.6 1270.5 185.8 1270.8 C191.1 1271.1 190.7 1271.1 191.7 1272.9 C192.6 1274.8 192.9 1284.1 193.1 1285.7 C193.3 1287.4 193.2 1299.3 193.3 1286 C193.4 1272.7 193.5 1184 193.6 1181 C193.7 1178 193.7 1251.5 194.1 1262 C194.5 1272.5 195.9 1264 196.5 1264 C197.1 1264 198.2 1263.8 198.6 1262 C199 1260.2 199.4 1266.1 199.6 1250 C199.8 1233.9 199.9 1130.4 200 1135 C200.1 1139.6 200.4 1267.9 200.6 1286 C200.8 1304.1 200.4 1279 201.3 1277.5 C202.2 1276 206 1274.3 207.7 1274.4 C209.5 1274.5 212.9 1277 215 1278.4 C217.1 1279.9 222.3 1284.4 224.1 1285.7 C226 1287 228.4 1288.9 229.6 1288.6 C230.8 1288.4 232.3 1285.9 233.3 1283.9 C234.2 1281.9 236 1276.6 236.9 1272.9 C237.8 1269.3 239.7 1258.5 240.5 1254.7 C241.4 1250.9 242.7 1244.9 243.3 1242.9 C243.9 1240.8 244.6 1238.8 245.1 1238.8 C245.6 1238.8 246.4 1240.8 246.9 1242.9 C247.5 1244.9 248.9 1250.4 249.7 1254.7 C250.5 1259 252.3 1272.3 253.3 1276.6 C254.4 1280.9 256.5 1287.9 257.9 1288.6 C259.3 1289.4 262.5 1283.9 264.3 1282.4 C266 1281 269.9 1277.8 271.6 1277 C273.2 1276.1 275.4 1275.4 277 1275.7 C278.6 1276 282.5 1278.1 284.3 1279.3 C286.2 1280.6 290 1284.5 291.6 1285.7 C293.2 1286.9 295.5 1289 296.7 1288.6 C297.9 1288.2 300.1 1283.6 301.1 1282.4 C302.1 1281.3 303.5 1279.1 304.4 1279.3 C305.3 1279.5 307.1 1282.8 308 1283.9 C308.9 1285 310.5 1288.4 311.7 1287.7 C312.8 1287 315.8 1282.6 317.1 1278.4 C318.5 1274.2 321.2 1261.2 322.6 1254.7 C324 1248.2 326.8 1233.6 328.1 1227.4 C329.4 1221.1 331.7 1209.3 332.6 1205.5 C333.6 1201.6 334.8 1196.7 335.4 1196.8 C336.1 1196.8 337.2 1201.8 337.9 1205.9 C338.6 1210 340.4 1223.6 341.2 1229 C342 1234.5 343.5 1244.3 344.5 1248.9 C345.6 1253.5 348.3 1263.3 349.5 1265.4 C350.6 1267.5 352.8 1267.5 353.6 1265.4 C354.4 1263.3 355.5 1251 355.8 1248.9 L358 1022 L362 1022 L364 1215.8 C364.2 1217.9 364.7 1228.1 365.2 1232.3 C365.7 1236.5 366.7 1244.9 367.7 1248.9 C368.6 1252.9 371.2 1261 372.6 1263.8 C374.1 1266.5 377.6 1268.5 379.3 1270.4 C380.9 1272.3 384.2 1276.4 385.9 1278.7 C387.5 1281 391.2 1288.2 392.5 1288.6 C393.7 1289 395 1284.9 395.8 1282 C396.6 1279 398.3 1268.4 399.1 1265.4 C399.9 1262.5 401.2 1258.6 401.9 1258.8 C402.7 1259 404 1264.1 404.9 1267.1 C405.8 1270 408.1 1279.3 409 1282 C410 1284.6 411.1 1288.3 412.3 1288.1 C413.6 1287.9 417.3 1281.9 419 1280.3 C420.6 1278.7 423.9 1276.2 425.6 1275.4 C427.3 1274.5 430.5 1273.6 432.2 1273.7 C433.9 1273.8 437.1 1275.1 438.8 1276.2 C440.5 1277.2 444 1280.6 445.4 1282 C446.9 1283.3 449.3 1286.5 450.4 1286.9 C451.4 1287.4 452.9 1288 453.7 1285.3 C454.5 1282.6 456.2 1274.2 457 1265.4 C457.8 1256.6 459.5 1230.5 460.3 1215.8 C461.2 1201.1 463 1162.6 463.6 1149.6 C464.3 1136.6 464.9 1119 465.3 1113.2 C465.7 1107.5 466.3 1104.1 466.6 1104.1 C466.9 1104.1 467.5 1107.5 467.9 1113.2 C468.4 1119 469.5 1136.6 470.2 1149.6 C471 1162.6 472.8 1201.1 473.5 1215.8 C474.3 1230.5 475.3 1257.3 476 1265.4 C476.7 1273.6 478.4 1277.2 479.1 1280 C479.9 1282.8 480.7 1286.8 481.7 1287.1 C482.7 1287.5 485.2 1284.2 486.8 1282.6 C488.4 1280.9 492.5 1275.7 494.5 1274.4 C496.4 1273 497.9 1272.3 502.1 1271.8 C506.3 1271.4 509.9 1271.2 527.7 1271.1 C545.5 1271 628 1271 642.6 1271" fill="none" stroke="#000" stroke-width="1.9" stroke-linejoin="round"/>
<path d="M72.4 1288.5 C88.6 1288.5 175 1288.5 200 1288.5 C225 1288.5 259.7 1288.1 269.7 1288.4 C279.7 1288.8 276.5 1289.9 278.8 1291.2 C281.2 1292.5 285.9 1296.9 288 1298.5 C290 1300.1 293.6 1303.6 295.3 1304 C296.9 1304.3 299.6 1302 300.7 1301.2 C301.9 1300.4 303.3 1297.5 304.4 1297.6 C305.4 1297.7 308 1301.2 308.9 1302.1 C309.9 1303.1 310.9 1304.9 311.7 1304.9 C312.5 1304.9 314.2 1303.9 315.3 1302.1 C316.5 1300.4 319.4 1294.4 320.8 1291.2 C322.2 1288 324.9 1280.3 326.3 1276.6 C327.6 1272.9 330.6 1265.2 331.7 1262 C332.9 1258.8 334.8 1253 335.4 1251.1 C336 1249.1 335.7 1245.4 336.2 1246.4 C336.8 1247.4 338.7 1255.4 339.6 1258.8 C340.4 1262.3 342 1270.8 342.9 1273.7 C343.7 1276.6 345.4 1280.5 346.2 1282 C346.9 1283.4 347.8 1285.5 348.7 1285.3 C349.5 1285.1 351.9 1282.8 352.8 1280.3 C353.7 1277.8 355.4 1267.3 355.8 1265.4 L358 1022 L362 1022 L363.5 1248.9 C363.6 1251 363.8 1262.3 364.4 1265.4 C364.9 1268.6 366.6 1271.6 367.7 1273.7 C368.7 1275.8 371.2 1280.3 372.6 1282 C374.1 1283.6 377.6 1285.5 379.3 1286.9 C380.9 1288.4 384.2 1291.6 385.9 1293.5 C387.5 1295.5 391.2 1302 392.5 1302.6 C393.7 1303.3 395 1300.5 395.8 1298.5 C396.6 1296.5 398.4 1289.7 399.1 1286.9 C399.8 1284.2 401 1277.2 401.6 1277 C402.2 1276.8 403.2 1282.6 404.1 1285.3 C404.9 1288 407.2 1296.2 408.2 1298.5 C409.3 1300.8 411.2 1303.2 412.3 1303.5 C413.5 1303.8 415.8 1302.2 417.3 1301 C418.8 1299.7 422 1295.1 423.9 1293.5 C425.8 1292 429.5 1289.6 432.2 1288.9 C434.9 1288.2 436.8 1288.1 445.4 1288.1 C454 1288 475 1288.5 500 1288.6 C525 1288.7 624.5 1288.6 642.6 1288.6 L642.6 1321.8 L72.4 1321.8 Z" fill="#ffe082" stroke="none" stroke-width="1" />
<path d="M72.4 1288.5 C88.6 1288.5 175 1288.5 200 1288.5 C225 1288.5 259.7 1288.1 269.7 1288.4 C279.7 1288.8 276.5 1289.9 278.8 1291.2 C281.2 1292.5 285.9 1296.9 288 1298.5 C290 1300.1 293.6 1303.6 295.3 1304 C296.9 1304.3 299.6 1302 300.7 1301.2 C301.9 1300.4 303.3 1297.5 304.4 1297.6 C305.4 1297.7 308 1301.2 308.9 1302.1 C309.9 1303.1 310.9 1304.9 311.7 1304.9 C312.5 1304.9 314.2 1303.9 315.3 1302.1 C316.5 1300.4 319.4 1294.4 320.8 1291.2 C322.2 1288 324.9 1280.3 326.3 1276.6 C327.6 1272.9 330.6 1265.2 331.7 1262 C332.9 1258.8 334.8 1253 335.4 1251.1 C336 1249.1 335.7 1245.4 336.2 1246.4 C336.8 1247.4 338.7 1255.4 339.6 1258.8 C340.4 1262.3 342 1270.8 342.9 1273.7 C343.7 1276.6 345.4 1280.5 346.2 1282 C346.9 1283.4 347.8 1285.5 348.7 1285.3 C349.5 1285.1 351.9 1282.8 352.8 1280.3 C353.7 1277.8 355.4 1267.3 355.8 1265.4 L358 1022 L362 1022 L363.5 1248.9 C363.6 1251 363.8 1262.3 364.4 1265.4 C364.9 1268.6 366.6 1271.6 367.7 1273.7 C368.7 1275.8 371.2 1280.3 372.6 1282 C374.1 1283.6 377.6 1285.5 379.3 1286.9 C380.9 1288.4 384.2 1291.6 385.9 1293.5 C387.5 1295.5 391.2 1302 392.5 1302.6 C393.7 1303.3 395 1300.5 395.8 1298.5 C396.6 1296.5 398.4 1289.7 399.1 1286.9 C399.8 1284.2 401 1277.2 401.6 1277 C402.2 1276.8 403.2 1282.6 404.1 1285.3 C404.9 1288 407.2 1296.2 408.2 1298.5 C409.3 1300.8 411.2 1303.2 412.3 1303.5 C413.5 1303.8 415.8 1302.2 417.3 1301 C418.8 1299.7 422 1295.1 423.9 1293.5 C425.8 1292 429.5 1289.6 432.2 1288.9 C434.9 1288.2 436.8 1288.1 445.4 1288.1 C454 1288 475 1288.5 500 1288.6 C525 1288.7 624.5 1288.6 642.6 1288.6" fill="none" stroke="#000" stroke-width="2" stroke-linejoin="round"/>
<path d="M72.4 1305.4 C88.6 1305.4 175.5 1305.4 200 1305.4 C224.5 1305.4 256.6 1305.1 266.1 1305.4 C275.6 1305.7 272.9 1306.7 275.2 1307.6 C277.5 1308.5 282 1311.5 284.3 1312.7 C286.6 1313.9 291.6 1316.3 293.4 1317.1 C295.3 1317.8 297.8 1318.8 298.9 1318.5 C300.1 1318.3 301.7 1315.8 302.6 1315.3 C303.4 1314.8 304.5 1314.2 305.3 1314.5 C306.1 1314.8 308.1 1316.8 308.9 1317.6 C309.7 1318.4 311 1320.7 311.7 1320.7 C312.4 1320.7 313.5 1319.1 314.4 1317.6 C315.3 1316.2 317.7 1311.8 319 1309.4 C320.3 1307 323.1 1302.8 324.7 1298.5 C326.2 1294.2 329.9 1279.4 331.3 1275.4 C332.6 1271.3 334.6 1267.3 335.4 1266.3 C336.3 1265.2 337.2 1265.5 337.9 1267.1 C338.6 1268.7 340.2 1276.1 341.2 1278.7 C342.3 1281.2 345.1 1285.7 346.2 1286.9 C347.2 1288.2 348.4 1289.2 349.5 1288.6 C350.5 1288 353.6 1284.1 354.4 1282 C355.3 1279.9 356.2 1273.3 356.4 1272 L358 1022 L362 1022 L362.7 1290.2 C362.8 1292.5 363 1305.5 363.2 1308.4 C363.4 1311.4 363.6 1313 364.4 1313.4 C365.1 1313.8 367.9 1312.5 369.3 1311.7 C370.8 1310.9 374.3 1307.8 375.9 1307.1 C377.6 1306.4 380 1306.3 382.6 1306.1 C385.1 1306 380.9 1306 395.8 1306 C410.7 1305.9 468.7 1306 500 1306 C531.3 1306 624.5 1306 642.6 1306 L642.6 1321.8 L72.4 1321.8 Z" fill="#7dd7a6" stroke="none" stroke-width="1" />
<path d="M72.4 1305.4 C88.6 1305.4 175.5 1305.4 200 1305.4 C224.5 1305.4 256.6 1305.1 266.1 1305.4 C275.6 1305.7 272.9 1306.7 275.2 1307.6 C277.5 1308.5 282 1311.5 284.3 1312.7 C286.6 1313.9 291.6 1316.3 293.4 1317.1 C295.3 1317.8 297.8 1318.8 298.9 1318.5 C300.1 1318.3 301.7 1315.8 302.6 1315.3 C303.4 1314.8 304.5 1314.2 305.3 1314.5 C306.1 1314.8 308.1 1316.8 308.9 1317.6 C309.7 1318.4 311 1320.7 311.7 1320.7 C312.4 1320.7 313.5 1319.1 314.4 1317.6 C315.3 1316.2 317.7 1311.8 319 1309.4 C320.3 1307 323.1 1302.8 324.7 1298.5 C326.2 1294.2 329.9 1279.4 331.3 1275.4 C332.6 1271.3 334.6 1267.3 335.4 1266.3 C336.3 1265.2 337.2 1265.5 337.9 1267.1 C338.6 1268.7 340.2 1276.1 341.2 1278.7 C342.3 1281.2 345.1 1285.7 346.2 1286.9 C347.2 1288.2 348.4 1289.2 349.5 1288.6 C350.5 1288 353.6 1284.1 354.4 1282 C355.3 1279.9 356.2 1273.3 356.4 1272 L358 1022 L362 1022 L362.7 1290.2 C362.8 1292.5 363 1305.5 363.2 1308.4 C363.4 1311.4 363.6 1313 364.4 1313.4 C365.1 1313.8 367.9 1312.5 369.3 1311.7 C370.8 1310.9 374.3 1307.8 375.9 1307.1 C377.6 1306.4 380 1306.3 382.6 1306.1 C385.1 1306 380.9 1306 395.8 1306 C410.7 1305.9 468.7 1306 500 1306 C531.3 1306 624.5 1306 642.6 1306" fill="none" stroke="#1f1800" stroke-width="3.1" stroke-linejoin="round"/>
<path d="M72.4 1305.4 C88.6 1305.4 175.5 1305.4 200 1305.4 C224.5 1305.4 256.6 1305.1 266.1 1305.4 C275.6 1305.7 272.9 1306.7 275.2 1307.6 C277.5 1308.5 282 1311.5 284.3 1312.7 C286.6 1313.9 291.6 1316.3 293.4 1317.1 C295.3 1317.8 297.8 1318.8 298.9 1318.5 C300.1 1318.3 301.7 1315.8 302.6 1315.3 C303.4 1314.8 304.5 1314.2 305.3 1314.5 C306.1 1314.8 308.1 1316.8 308.9 1317.6 C309.7 1318.4 311 1320.7 311.7 1320.7 C312.4 1320.7 313.5 1319.1 314.4 1317.6 C315.3 1316.2 317.7 1311.8 319 1309.4 C320.3 1307 323.1 1302.8 324.7 1298.5 C326.2 1294.2 329.9 1279.4 331.3 1275.4 C332.6 1271.3 334.6 1267.3 335.4 1266.3 C336.3 1265.2 337.2 1265.5 337.9 1267.1 C338.6 1268.7 340.2 1276.1 341.2 1278.7 C342.3 1281.2 345.1 1285.7 346.2 1286.9 C347.2 1288.2 348.4 1289.2 349.5 1288.6 C350.5 1288 353.6 1284.1 354.4 1282 C355.3 1279.9 356.2 1273.3 356.4 1272 M362.7 1290.2 L362.7 1290.2 C362.8 1292.5 363 1305.5 363.2 1308.4 C363.4 1311.4 363.6 1313 364.4 1313.4 C365.1 1313.8 367.9 1312.5 369.3 1311.7 C370.8 1310.9 374.3 1307.8 375.9 1307.1 C377.6 1306.4 380 1306.3 382.6 1306.1 C385.1 1306 380.9 1306 395.8 1306 C410.7 1305.9 468.7 1306 500 1306 C531.3 1306 624.5 1306 642.6 1306" fill="none" stroke="#c9a227" stroke-width="0.9" transform="translate(0,-1.5)"/>
<line x1="359.7" y1="1022" x2="359.7" y2="1321.8" stroke="#000" stroke-width="6.4" />
<line x1="360.3" y1="1023" x2="361" y2="1321.8" stroke="#8a6d00" stroke-width="1" />
<line x1="359.8" y1="986.8" x2="359.8" y2="988.3" stroke="#bf9000" stroke-width="1.2" />
<rect x="72.4" y="987.3" width="570.2" height="334.5" fill="none" stroke="#000" stroke-width="4.6" stroke-linejoin="round"/>
<path d="M68.4 1323.3 C77.9 1323.3 119.3 1323.3 140 1323.3 C160.7 1323.3 210.4 1323.5 224 1323.3 C237.6 1323.1 237.5 1322.3 242.4 1321.8 C247.3 1321.3 256.2 1319.8 260.6 1319.6 C265 1319.4 271.3 1320.9 275.2 1320.4 C279.1 1319.9 286 1316.8 289.9 1315.9 C293.9 1315 301.1 1314.4 304.8 1313.4 C308.6 1312.4 314.9 1310.4 318 1308.4 C321.2 1306.5 326.3 1303 328.5 1299 C330.7 1295 333.2 1284.4 334.6 1278.7 C336 1272.9 337.9 1264 338.7 1255.8 C339.6 1247.6 340.4 1224.7 340.9 1217.1 C341.4 1209.6 342 1202.2 342.5 1199.3 C343 1196.3 344 1194.2 344.5 1195.1 C345 1196 345.7 1199.8 346.2 1205.9 C346.7 1211.9 347.6 1231.5 348.2 1240.6 C348.7 1249.7 349.7 1265.2 350.3 1274 C350.9 1282.9 352.1 1300.9 352.8 1306.8 C353.5 1312.6 355 1320.2 355.8 1318 C356.5 1315.8 357.8 1297.7 358.6 1290.2 C359.3 1282.8 360.6 1272 361.4 1262.1 C362.2 1252.2 364 1227.5 364.9 1215.8 C365.7 1204.1 366.9 1181.2 367.7 1174.4 C368.4 1167.7 369.9 1164.4 370.7 1165 C371.4 1165.7 372.8 1174.8 373.5 1179.4 C374.1 1184 374.9 1190.3 375.5 1199.3 C376 1208.2 376.7 1236.8 377.3 1246.7 C377.9 1256.7 379.4 1268.2 380.1 1273.7 C380.8 1279.2 381.6 1283.2 382.6 1287.8 C383.6 1292.3 385.8 1303.4 387.5 1307.6 C389.3 1311.8 393.3 1317.3 395.8 1319.2 C398.3 1321.1 401.8 1321.3 406.2 1321.7 C410.6 1322 423 1321.8 428.9 1322 C434.7 1322.2 440.5 1323.1 450 1323.3 C459.5 1323.5 474.3 1323.3 500 1323.3 C525.7 1323.3 623.6 1323.3 642.6 1323.3" fill="none" stroke="#c00000" stroke-width="1.5" />
<path d="M338.2 1255.8 C338.8 1249.7 343 1200.4 343.7 1194.3 C344.4 1188.2 344.3 1187.1 345 1195.1 C345.8 1203.1 350.5 1266.1 351.1 1274" fill="none" stroke="#c00000" stroke-width="1" />
<g fill="#fff" stroke="#c00000" stroke-width="1.6"><circle cx="89.4" cy="1320.3" r="7.6"/><circle cx="140" cy="1320.3" r="7.6"/><circle cx="195.3" cy="1320.3" r="7.6"/><circle cx="244.6" cy="1320.3" r="7.6"/><circle cx="289.9" cy="1315.9" r="7.6"/><circle cx="328.5" cy="1299" r="7.6"/><circle cx="338.7" cy="1255.8" r="7.6"/><circle cx="340.9" cy="1217.1" r="7.6"/><circle cx="350.3" cy="1274" r="7.6"/><circle cx="355.8" cy="1318" r="7.6"/><circle cx="361.4" cy="1262.1" r="7.6"/><circle cx="364.9" cy="1215.8" r="7.6"/><circle cx="370.7" cy="1165" r="7.6"/><circle cx="375.5" cy="1199.3" r="7.6"/><circle cx="377.3" cy="1246.7" r="7.6"/><circle cx="382.6" cy="1287.8" r="7.6"/><circle cx="406.2" cy="1319.7" r="7.6"/><circle cx="450.4" cy="1320.3" r="7.6"/><circle cx="499.6" cy="1320.3" r="7.6"/><circle cx="547.6" cy="1320.3" r="7.6"/><circle cx="595.3" cy="1320.3" r="7.6"/></g>
<path d="M382.6 1218.3 C384.2 1216.2 388.6 1210.1 392.5 1205.9 C396.3 1201.7 401 1196.8 405.7 1193 C410.4 1189.1 415.4 1185.6 420.6 1182.7 C425.9 1179.8 431.6 1177.4 437.2 1175.4 C442.7 1173.4 446.6 1172.2 453.7 1170.8 C460.8 1169.4 467.7 1168.1 480 1167 C492.3 1165.9 511.2 1165 527.7 1164.3 C544.1 1163.5 563.8 1162.9 578.7 1162.5 C593.6 1162.1 605.6 1162.1 617 1162 C628.4 1161.8 642.1 1161.7 647.1 1161.7" fill="none" stroke="#7030a0" stroke-width="3.2" stroke-linecap="butt"/><path d="M647.1 1161.7 L629.1 1153.6 L638.1 1161.8 L629.2 1170.2Z" fill="#7030a0" stroke="none" stroke-width="1" />
<text x="53.6" y="994" font-size="21.3" text-anchor="end" font-weight="bold" font-style="normal" fill="#000" >20</text>
<text x="53.6" y="1027.5" font-size="21.3" text-anchor="end" font-weight="bold" font-style="normal" fill="#000" >18</text>
<text x="53.6" y="1060.9" font-size="21.3" text-anchor="end" font-weight="bold" font-style="normal" fill="#000" >16</text>
<text x="53.6" y="1094.4" font-size="21.3" text-anchor="end" font-weight="bold" font-style="normal" fill="#000" >14</text>
<text x="53.6" y="1127.8" font-size="21.3" text-anchor="end" font-weight="bold" font-style="normal" fill="#000" >12</text>
<text x="53.6" y="1161.2" font-size="21.3" text-anchor="end" font-weight="bold" font-style="normal" fill="#000" >10</text>
<text x="53.6" y="1194.7" font-size="21.3" text-anchor="end" font-weight="bold" font-style="normal" fill="#000" >8</text>
<text x="53.6" y="1228.2" font-size="21.3" text-anchor="end" font-weight="bold" font-style="normal" fill="#000" >6</text>
<text x="53.6" y="1261.6" font-size="21.3" text-anchor="end" font-weight="bold" font-style="normal" fill="#000" >4</text>
<text x="53.6" y="1295.1" font-size="21.3" text-anchor="end" font-weight="bold" font-style="normal" fill="#000" >2</text>
<text x="53.6" y="1328.5" font-size="21.3" text-anchor="end" font-weight="bold" font-style="normal" fill="#000" >0</text>
<text x="69" y="1356.4" font-size="21.3" text-anchor="middle" font-weight="bold" font-style="normal" fill="#000" >-13</text>
<text x="195.9" y="1356.4" font-size="21.3" text-anchor="middle" font-weight="bold" font-style="normal" fill="#000" >-11</text>
<text x="322.8" y="1356.4" font-size="21.3" text-anchor="middle" font-weight="bold" font-style="normal" fill="#000" >-9</text>
<text x="449.7" y="1356.4" font-size="21.3" text-anchor="middle" font-weight="bold" font-style="normal" fill="#000" >-7</text>
<text x="576.6" y="1356.4" font-size="21.3" text-anchor="middle" font-weight="bold" font-style="normal" fill="#000" >-5</text>
<text x="659" y="995.1" font-size="21.3" text-anchor="start" font-weight="bold" font-style="normal" fill="#000" >6</text>
<text x="659" y="1050.9" font-size="21.3" text-anchor="start" font-weight="bold" font-style="normal" fill="#000" >5</text>
<text x="659" y="1106.7" font-size="21.3" text-anchor="start" font-weight="bold" font-style="normal" fill="#000" >4</text>
<text x="659" y="1162.5" font-size="21.3" text-anchor="start" font-weight="bold" font-style="normal" fill="#000" >3</text>
<text x="659" y="1218.3" font-size="21.3" text-anchor="start" font-weight="bold" font-style="normal" fill="#000" >2</text>
<text x="659" y="1274.1" font-size="21.3" text-anchor="start" font-weight="bold" font-style="normal" fill="#000" >1</text>
<text x="659" y="1329.9" font-size="21.3" text-anchor="start" font-weight="bold" font-style="normal" fill="#000" >0</text>
<text x="355" y="1384.3" font-size="21.3" text-anchor="middle" font-weight="bold" font-style="normal" fill="#000" >Fermi Energy (eV)</text>
<text x="23" y="1166.5" font-size="21.4" text-anchor="middle" font-weight="bold" font-style="normal" fill="#000" transform="rotate(-90 23 1166.5)" >Electronic ZT Enhancement</text>
<text x="718" y="1159.5" font-size="21.4" text-anchor="middle" font-weight="bold" font-style="normal" fill="#000" transform="rotate(-90 718 1159.5)" >Electronic ZT</text>
<text x="98.5" y="1024" font-size="21.3" text-anchor="start" font-weight="bold" font-style="normal" fill="#000" >(e)</text>
<text x="512.3" y="1022" font-size="18.3" text-anchor="start" font-weight="bold" font-style="normal" fill="#000" >1% Ga doping</text>
<text x="512.3" y="1065.3" font-size="18.3" text-anchor="start" font-weight="bold" font-style="normal" fill="#000" >3% Ga doping</text>
<text x="512.3" y="1110.8" font-size="18.3" text-anchor="start" font-weight="bold" font-style="normal" fill="#000" >5% Ga doping</text>
<rect x="496.8" y="1013.3" width="7.4" height="7.4" rx="1.5" fill="#7dd7a6" stroke="#000" stroke-width="3.8"/>
<rect x="496.2" y="1057" width="8.4" height="7.6" fill="#ffd966"/>
<rect x="496.2" y="1100" width="8.4" height="9" rx="1" fill="#ecbca1" stroke="#000" stroke-width="1.5"/>
</g>
<g id="panel-f">
<path d="M927.7 1147.6 C927.8 1147.8 927.8 1148.1 928.2 1148.9 C928.5 1149.8 929.3 1154 930.2 1154 C931.1 1154.1 933.8 1152.5 934.8 1149.4 C935.8 1146.4 937.3 1137.3 937.9 1131.1 C938.5 1124.9 939.1 1112.2 939.4 1103 C939.7 1093.8 940 1073.9 940.2 1062.1 C940.3 1050.4 940.5 1014.9 940.7 1014.9 C940.8 1014.9 941 1050.4 941.2 1062.1 C941.4 1073.9 941.9 1094.3 942.2 1103 C942.6 1111.7 943.1 1122.5 943.7 1127.2 C944.4 1132 945.9 1136.7 946.8 1138.7 C947.7 1140.7 949.6 1142.7 950.6 1142 C951.7 1141.4 953.4 1136.6 954.5 1134.1 C955.5 1131.6 957.3 1123.9 958.3 1123.4 C959.3 1122.9 960.6 1126.5 961.6 1130.6 C962.6 1134.6 964.4 1148.5 966 1154 C967.6 1159.6 971.6 1168.2 973.6 1171.9 C975.7 1175.7 979.6 1180.4 981.3 1182.1 C983 1183.9 984.9 1185.1 986.4 1184.9 C987.9 1184.8 991.1 1183.9 992.8 1181.1 C994.5 1178.3 997.7 1170.2 999.1 1164.3 C1000.6 1158.3 1002.8 1145 1003.7 1136.2 C1004.7 1127.3 1005.8 1108.4 1006.3 1097.9 C1006.8 1087.3 1007.3 1065.9 1007.6 1057 C1007.8 1048.2 1007.9 1031.5 1008.1 1031.5 C1008.2 1031.5 1008.4 1048.9 1008.6 1057 C1008.8 1065.2 1009.3 1085.3 1009.6 1092.8 C1009.9 1100.3 1010.4 1111.5 1010.9 1113.2 C1011.4 1114.9 1012.4 1111.7 1013.2 1105.5 C1014 1099.4 1016.1 1074 1017 1067.2 C1017.9 1060.4 1019.3 1054.5 1020.1 1054.5 C1020.8 1054.5 1021.9 1060.4 1022.6 1067.2 C1023.4 1074 1024.8 1097 1026 1105.5 C1027.1 1114 1029.9 1126.5 1031.1 1131.1 C1032.3 1135.7 1033.8 1138.3 1034.9 1140 C1036 1141.7 1038.3 1144.2 1039.5 1144.1 C1040.7 1144 1042.8 1143 1043.8 1139.2 C1044.8 1135.5 1046.2 1123.6 1046.9 1115.7 C1047.5 1107.8 1048.3 1089.2 1048.7 1080 C1049.1 1070.8 1049.5 1053.6 1049.7 1046.8 C1049.9 1040 1050.1 1028.9 1050.2 1028.9 C1050.3 1028.9 1050.6 1040 1050.7 1046.8 C1050.9 1053.6 1051.3 1073.2 1051.5 1080 C1051.7 1086.8 1051.9 1096.9 1052.3 1097.9 C1052.6 1098.9 1053.4 1093.8 1053.8 1087.7 C1054.2 1081.5 1055 1059.6 1055.3 1051.9 C1055.6 1044.3 1055.9 1030.2 1056.1 1030.2 C1056.3 1030.2 1056.6 1043.6 1056.9 1051.9 C1057.1 1060.3 1057.4 1081.9 1057.9 1092.8 C1058.3 1103.7 1059.4 1124.8 1060.4 1133.6 C1061.4 1142.5 1063.8 1153.4 1065.5 1159.1 C1067.2 1164.9 1071 1173 1073.2 1177 C1075.4 1181 1079.1 1185.5 1082.1 1189 C1085.2 1192.5 1092.9 1200.1 1096.2 1203.4 C1099.4 1206.7 1103.3 1211.4 1106.4 1213.6 C1109.4 1215.9 1116.3 1220.2 1119.1 1220.3 C1122 1220.3 1126.4 1215.2 1128.1 1214.1 C1129.8 1213.1 1130.4 1211.7 1131.9 1212.3 C1133.4 1213 1136.9 1216.9 1139.6 1218.7 C1142.3 1220.6 1148.9 1225.1 1152.3 1226.4 C1155.7 1227.7 1161.7 1227.4 1165.1 1228.4 C1168.5 1229.4 1174.5 1232.1 1177.9 1234 C1181.3 1236 1187.9 1240.6 1190.6 1243 C1193.4 1245.4 1196.6 1250.3 1198.3 1251.9 C1200 1253.5 1202 1255 1203.4 1254.7 C1204.8 1254.5 1207.2 1252.3 1208.5 1249.9 C1209.8 1247.5 1212.2 1241.8 1213.1 1236.6 C1214 1231.4 1214.9 1219.2 1215.4 1211.1 C1215.9 1202.9 1216.4 1185.6 1216.7 1175.3 C1217 1165 1217.4 1133 1217.7 1133.6 C1218 1134.2 1218.3 1167.8 1218.6 1180 C1218.9 1192.2 1219.5 1215.7 1220 1225 C1220.5 1234.3 1221.3 1246.3 1222 1250 C1222.7 1253.7 1223.2 1253.2 1225 1252.4 C1226.8 1251.7 1232.5 1247 1235.2 1244.3 C1237.9 1241.5 1242.7 1235.2 1245.4 1231.5 C1248.1 1227.7 1253.1 1218.9 1255.6 1216.2 C1258.2 1213.4 1261.9 1211.6 1264.6 1211.1 C1267.3 1210.6 1272.1 1211.6 1276.1 1212.3 C1280 1213.1 1289.2 1216.6 1293.9 1216.4 C1298.7 1216.3 1308.1 1212.3 1311.8 1211.1 C1315.6 1209.8 1319.6 1208.6 1322 1207.2 C1324.4 1205.9 1328 1201.8 1329.7 1200.9 C1331.4 1199.9 1332.7 1199.8 1334.8 1200.3 C1336.8 1200.9 1341.3 1203.6 1345 1204.7 C1348.7 1205.8 1358.8 1208.9 1362.9 1208.8 C1367 1208.6 1372.6 1205.5 1375.6 1203.4 C1378.7 1201.3 1383.6 1196.1 1385.9 1193.2 C1388.1 1190.3 1390.5 1184.5 1392.2 1181.7 C1393.9 1178.9 1397.2 1175.6 1398.6 1171.9 C1400.1 1168.2 1402.3 1159.8 1403.2 1154 C1404.2 1148.3 1405.2 1136.3 1405.8 1128.5 C1406.3 1120.7 1407.1 1104.2 1407.6 1095.3 C1408 1086.5 1408.5 1062.1 1408.8 1062.1 C1409.2 1062.1 1409.7 1086.5 1410.1 1095.3 C1410.5 1104.2 1411.1 1120.7 1411.6 1128.5 C1412.1 1136.3 1412.9 1148.3 1413.9 1154 C1414.9 1159.8 1417 1168 1419 1171.9 C1421.1 1175.8 1426.2 1181.1 1429.3 1183.4 C1432.3 1185.7 1439 1188.9 1442 1189 C1445.1 1189.2 1450.1 1186.8 1452.2 1184.7 C1454.4 1182.6 1456.9 1178.3 1458.1 1173.2 C1459.3 1168.1 1460.7 1154.4 1461.4 1146.4 C1462.1 1138.4 1462.8 1122.7 1463.2 1113.2 C1463.6 1103.7 1464.2 1074.9 1464.5 1074.9 C1464.8 1074.9 1465.2 1103.7 1465.5 1113.2 C1465.9 1122.7 1466.5 1139.2 1467 1146.4 C1467.6 1153.5 1468.5 1162.7 1469.6 1166.8 C1470.7 1171 1473.1 1174.9 1475.2 1177.5 C1477.3 1180.2 1483.2 1184.4 1485.4 1186.5 C1487.6 1188.5 1489.4 1191.8 1491.8 1192.7 C1494.2 1193.6 1501.8 1193.1 1503.3 1193.2 L1504.3 1322.2 L927.7 1322.2 Z" fill="#b5e08c" stroke="none" stroke-width="1" />
<path d="M927.7 1147.6 C927.8 1147.8 927.8 1148.1 928.2 1148.9 C928.5 1149.8 929.3 1154 930.2 1154 C931.1 1154.1 933.8 1152.5 934.8 1149.4 C935.8 1146.4 937.3 1137.3 937.9 1131.1 C938.5 1124.9 939.1 1112.2 939.4 1103 C939.7 1093.8 940 1073.9 940.2 1062.1 C940.3 1050.4 940.5 1014.9 940.7 1014.9 C940.8 1014.9 941 1050.4 941.2 1062.1 C941.4 1073.9 941.9 1094.3 942.2 1103 C942.6 1111.7 943.1 1122.5 943.7 1127.2 C944.4 1132 945.9 1136.7 946.8 1138.7 C947.7 1140.7 949.6 1142.7 950.6 1142 C951.7 1141.4 953.4 1136.6 954.5 1134.1 C955.5 1131.6 957.3 1123.9 958.3 1123.4 C959.3 1122.9 960.6 1126.5 961.6 1130.6 C962.6 1134.6 964.4 1148.5 966 1154 C967.6 1159.6 971.6 1168.2 973.6 1171.9 C975.7 1175.7 979.6 1180.4 981.3 1182.1 C983 1183.9 984.9 1185.1 986.4 1184.9 C987.9 1184.8 991.1 1183.9 992.8 1181.1 C994.5 1178.3 997.7 1170.2 999.1 1164.3 C1000.6 1158.3 1002.8 1145 1003.7 1136.2 C1004.7 1127.3 1005.8 1108.4 1006.3 1097.9 C1006.8 1087.3 1007.3 1065.9 1007.6 1057 C1007.8 1048.2 1007.9 1031.5 1008.1 1031.5 C1008.2 1031.5 1008.4 1048.9 1008.6 1057 C1008.8 1065.2 1009.3 1085.3 1009.6 1092.8 C1009.9 1100.3 1010.4 1111.5 1010.9 1113.2 C1011.4 1114.9 1012.4 1111.7 1013.2 1105.5 C1014 1099.4 1016.1 1074 1017 1067.2 C1017.9 1060.4 1019.3 1054.5 1020.1 1054.5 C1020.8 1054.5 1021.9 1060.4 1022.6 1067.2 C1023.4 1074 1024.8 1097 1026 1105.5 C1027.1 1114 1029.9 1126.5 1031.1 1131.1 C1032.3 1135.7 1033.8 1138.3 1034.9 1140 C1036 1141.7 1038.3 1144.2 1039.5 1144.1 C1040.7 1144 1042.8 1143 1043.8 1139.2 C1044.8 1135.5 1046.2 1123.6 1046.9 1115.7 C1047.5 1107.8 1048.3 1089.2 1048.7 1080 C1049.1 1070.8 1049.5 1053.6 1049.7 1046.8 C1049.9 1040 1050.1 1028.9 1050.2 1028.9 C1050.3 1028.9 1050.6 1040 1050.7 1046.8 C1050.9 1053.6 1051.3 1073.2 1051.5 1080 C1051.7 1086.8 1051.9 1096.9 1052.3 1097.9 C1052.6 1098.9 1053.4 1093.8 1053.8 1087.7 C1054.2 1081.5 1055 1059.6 1055.3 1051.9 C1055.6 1044.3 1055.9 1030.2 1056.1 1030.2 C1056.3 1030.2 1056.6 1043.6 1056.9 1051.9 C1057.1 1060.3 1057.4 1081.9 1057.9 1092.8 C1058.3 1103.7 1059.4 1124.8 1060.4 1133.6 C1061.4 1142.5 1063.8 1153.4 1065.5 1159.1 C1067.2 1164.9 1071 1173 1073.2 1177 C1075.4 1181 1079.1 1185.5 1082.1 1189 C1085.2 1192.5 1092.9 1200.1 1096.2 1203.4 C1099.4 1206.7 1103.3 1211.4 1106.4 1213.6 C1109.4 1215.9 1116.3 1220.2 1119.1 1220.3 C1122 1220.3 1126.4 1215.2 1128.1 1214.1 C1129.8 1213.1 1130.4 1211.7 1131.9 1212.3 C1133.4 1213 1136.9 1216.9 1139.6 1218.7 C1142.3 1220.6 1148.9 1225.1 1152.3 1226.4 C1155.7 1227.7 1161.7 1227.4 1165.1 1228.4 C1168.5 1229.4 1174.5 1232.1 1177.9 1234 C1181.3 1236 1187.9 1240.6 1190.6 1243 C1193.4 1245.4 1196.6 1250.3 1198.3 1251.9 C1200 1253.5 1202 1255 1203.4 1254.7 C1204.8 1254.5 1207.2 1252.3 1208.5 1249.9 C1209.8 1247.5 1212.2 1241.8 1213.1 1236.6 C1214 1231.4 1214.9 1219.2 1215.4 1211.1 C1215.9 1202.9 1216.4 1185.6 1216.7 1175.3 C1217 1165 1217.4 1133 1217.7 1133.6 C1218 1134.2 1218.3 1167.8 1218.6 1180 C1218.9 1192.2 1219.5 1215.7 1220 1225 C1220.5 1234.3 1221.3 1246.3 1222 1250 C1222.7 1253.7 1223.2 1253.2 1225 1252.4 C1226.8 1251.7 1232.5 1247 1235.2 1244.3 C1237.9 1241.5 1242.7 1235.2 1245.4 1231.5 C1248.1 1227.7 1253.1 1218.9 1255.6 1216.2 C1258.2 1213.4 1261.9 1211.6 1264.6 1211.1 C1267.3 1210.6 1272.1 1211.6 1276.1 1212.3 C1280 1213.1 1289.2 1216.6 1293.9 1216.4 C1298.7 1216.3 1308.1 1212.3 1311.8 1211.1 C1315.6 1209.8 1319.6 1208.6 1322 1207.2 C1324.4 1205.9 1328 1201.8 1329.7 1200.9 C1331.4 1199.9 1332.7 1199.8 1334.8 1200.3 C1336.8 1200.9 1341.3 1203.6 1345 1204.7 C1348.7 1205.8 1358.8 1208.9 1362.9 1208.8 C1367 1208.6 1372.6 1205.5 1375.6 1203.4 C1378.7 1201.3 1383.6 1196.1 1385.9 1193.2 C1388.1 1190.3 1390.5 1184.5 1392.2 1181.7 C1393.9 1178.9 1397.2 1175.6 1398.6 1171.9 C1400.1 1168.2 1402.3 1159.8 1403.2 1154 C1404.2 1148.3 1405.2 1136.3 1405.8 1128.5 C1406.3 1120.7 1407.1 1104.2 1407.6 1095.3 C1408 1086.5 1408.5 1062.1 1408.8 1062.1 C1409.2 1062.1 1409.7 1086.5 1410.1 1095.3 C1410.5 1104.2 1411.1 1120.7 1411.6 1128.5 C1412.1 1136.3 1412.9 1148.3 1413.9 1154 C1414.9 1159.8 1417 1168 1419 1171.9 C1421.1 1175.8 1426.2 1181.1 1429.3 1183.4 C1432.3 1185.7 1439 1188.9 1442 1189 C1445.1 1189.2 1450.1 1186.8 1452.2 1184.7 C1454.4 1182.6 1456.9 1178.3 1458.1 1173.2 C1459.3 1168.1 1460.7 1154.4 1461.4 1146.4 C1462.1 1138.4 1462.8 1122.7 1463.2 1113.2 C1463.6 1103.7 1464.2 1074.9 1464.5 1074.9 C1464.8 1074.9 1465.2 1103.7 1465.5 1113.2 C1465.9 1122.7 1466.5 1139.2 1467 1146.4 C1467.6 1153.5 1468.5 1162.7 1469.6 1166.8 C1470.7 1171 1473.1 1174.9 1475.2 1177.5 C1477.3 1180.2 1483.2 1184.4 1485.4 1186.5 C1487.6 1188.5 1489.4 1191.8 1491.8 1192.7 C1494.2 1193.6 1501.8 1193.1 1503.3 1193.2" fill="none" stroke="#375623" stroke-width="1.3" stroke-linejoin="round"/>
<path d="M1048.5 1321 L1049.4 1298 L1050.6 1316 L1052.5 1318 L1054.6 1316 L1055.3 1277 L1056.2 1321" fill="#ffc000" stroke="#000" stroke-width="1.2" />
<path d="M1092.3 1321.4 C1092.7 1319.9 1094 1313.1 1094.9 1310.6 C1095.7 1308.2 1097.8 1304.2 1098.7 1303 C1099.6 1301.8 1100.9 1301.5 1101.8 1301.7 C1102.6 1301.9 1104.3 1302.7 1105.1 1304.3 C1105.9 1305.8 1107.1 1310.9 1107.7 1313.2 C1108.2 1315.5 1109.2 1320.3 1109.4 1321.4Z" fill="#ffc000" stroke="none" stroke-width="1" />
<path d="M1092.3 1321.4 C1092.7 1319.9 1094 1313.1 1094.9 1310.6 C1095.7 1308.2 1097.8 1304.2 1098.7 1303 C1099.6 1301.8 1100.9 1301.5 1101.8 1301.7 C1102.6 1301.9 1104.3 1302.7 1105.1 1304.3 C1105.9 1305.8 1107.1 1310.9 1107.7 1313.2 C1108.2 1315.5 1109.2 1320.3 1109.4 1321.4" fill="none" stroke="#000" stroke-width="1.7" />
<path d="M1119.1 1321.4 C1119.8 1320.3 1122.6 1315.1 1124.3 1313.2 C1126 1311.3 1129.2 1307.9 1131.9 1306.8 C1134.6 1305.7 1140.6 1305.5 1144.7 1305 C1148.8 1304.6 1158.1 1303.9 1162.6 1303.5 C1167 1303 1173.1 1302 1177.9 1301.7 C1182.6 1301.4 1192.7 1300.9 1198.3 1300.9 C1203.9 1300.9 1213 1301.6 1220 1301.7 C1227 1301.8 1243.1 1301.7 1250.5 1301.7 C1258 1301.7 1271.1 1301.5 1276.1 1301.7 C1281 1301.9 1285 1302.1 1287.6 1303 C1290.1 1303.8 1293.5 1306.4 1295.2 1308.1 C1296.9 1309.8 1299.1 1314 1300.3 1315.7 C1301.5 1317.5 1303.6 1320.6 1304.1 1321.4Z" fill="#ffc000" stroke="none" stroke-width="1" />
<path d="M1119.1 1321.4 C1119.8 1320.3 1122.6 1315.1 1124.3 1313.2 C1126 1311.3 1129.2 1307.9 1131.9 1306.8 C1134.6 1305.7 1140.6 1305.5 1144.7 1305 C1148.8 1304.6 1158.1 1303.9 1162.6 1303.5 C1167 1303 1173.1 1302 1177.9 1301.7 C1182.6 1301.4 1192.7 1300.9 1198.3 1300.9 C1203.9 1300.9 1213 1301.6 1220 1301.7 C1227 1301.8 1243.1 1301.7 1250.5 1301.7 C1258 1301.7 1271.1 1301.5 1276.1 1301.7 C1281 1301.9 1285 1302.1 1287.6 1303 C1290.1 1303.8 1293.5 1306.4 1295.2 1308.1 C1296.9 1309.8 1299.1 1314 1300.3 1315.7 C1301.5 1317.5 1303.6 1320.6 1304.1 1321.4" fill="none" stroke="#000" stroke-width="1.7" />
<path d="M1311.3 1321.4 C1311.5 1319.6 1312.4 1311.9 1313.1 1308.1 C1313.8 1304.3 1315.4 1295.7 1316.4 1292.8 C1317.4 1289.9 1319.5 1287.3 1320.7 1286.4 C1322 1285.4 1324.6 1285.1 1325.9 1285.6 C1327.1 1286.1 1329.2 1287.9 1330.2 1290.2 C1331.2 1292.5 1332.8 1298.8 1333.5 1303 C1334.2 1307.1 1335.1 1318.9 1335.3 1321.4Z" fill="#ffc000" stroke="none" stroke-width="1" />
<path d="M1311.3 1321.4 C1311.5 1319.6 1312.4 1311.9 1313.1 1308.1 C1313.8 1304.3 1315.4 1295.7 1316.4 1292.8 C1317.4 1289.9 1319.5 1287.3 1320.7 1286.4 C1322 1285.4 1324.6 1285.1 1325.9 1285.6 C1327.1 1286.1 1329.2 1287.9 1330.2 1290.2 C1331.2 1292.5 1332.8 1298.8 1333.5 1303 C1334.2 1307.1 1335.1 1318.9 1335.3 1321.4" fill="none" stroke="#000" stroke-width="1.7" />
<path d="M1173.3 1321.4 C1173.7 1319.9 1175.3 1313.4 1176.6 1310.6 C1177.9 1307.9 1181.1 1302.7 1183 1300.9 C1184.9 1299.2 1188.6 1297.5 1190.6 1297.4 C1192.7 1297.2 1196.3 1298.7 1198.3 1299.9 C1200.3 1301.2 1204.2 1305.7 1206 1306.8 C1207.7 1307.9 1210.4 1309.3 1211.6 1308.1 C1212.8 1306.9 1214.2 1303.3 1214.9 1297.9 C1215.6 1292.4 1216.4 1271.3 1216.7 1267.2 L1218 1321 Z" fill="#6ab98c" stroke="none" stroke-width="1" />
<path d="M1173.3 1321.4 C1173.7 1319.9 1175.3 1313.4 1176.6 1310.6 C1177.9 1307.9 1181.1 1302.7 1183 1300.9 C1184.9 1299.2 1188.6 1297.5 1190.6 1297.4 C1192.7 1297.2 1196.3 1298.7 1198.3 1299.9 C1200.3 1301.2 1204.2 1305.7 1206 1306.8 C1207.7 1307.9 1210.4 1309.3 1211.6 1308.1 C1212.8 1306.9 1214.2 1303.3 1214.9 1297.9 C1215.6 1292.4 1216.4 1271.3 1216.7 1267.2" fill="none" stroke="#0070c0" stroke-width="2.2" />
<path d="M1216.3 1321 L1217.6 1213 L1218.8 1321" fill="none" stroke="#000" stroke-width="1.6" />
<path d="M1216 1300 L1217.5 1258 L1219 1300 L1220 1321" fill="none" stroke="#0070c0" stroke-width="2.2" />
<rect x="927.7" y="983.9" width="576.6" height="338.3" fill="none" stroke="#000" stroke-width="4.6" stroke-linejoin="round"/>
<line x1="927.7" y1="1319.6" x2="1504.3" y2="1319.6" stroke="#000" stroke-width="2.4" />
<line x1="947.7" y1="1318.6" x2="1504.3" y2="1318.6" stroke="#0070c0" stroke-width="0.8" />
<path d="M925.7 1321.2 C926.6 1321 930.5 1319.9 932.8 1319.6 C935.1 1319.3 940.4 1319.6 943 1318.8 C945.5 1318.1 948.9 1314.4 951.9 1314 C955 1313.5 962.4 1316.9 966 1315.7 C969.5 1314.6 975.9 1307.8 978.7 1305.5 C981.5 1303.3 984.7 1298.5 986.9 1298.6 C989.1 1298.8 993 1304.1 995.3 1306.8 C997.6 1309.5 1001 1317 1004.3 1318.8 C1007.5 1320.6 1015.1 1321 1019.6 1320.3 C1024.1 1319.7 1033.2 1314.1 1038 1314 C1042.7 1313.9 1051.6 1319.3 1055.3 1319.6 C1059 1319.8 1063.1 1317.4 1065.5 1315.7 C1067.9 1314 1071.4 1309.3 1073.2 1306.8 C1075 1304.3 1077.6 1301.4 1079.1 1297.1 C1080.5 1292.9 1082.6 1282.1 1083.9 1274.9 C1085.3 1267.7 1088.1 1250.8 1089.3 1243 C1090.5 1235.1 1092.2 1223 1093.1 1216.2 C1094 1209.4 1095.1 1202.1 1096.2 1191.9 C1097.3 1181.7 1099.9 1152.9 1101.3 1139.5 C1102.6 1126.1 1105 1102.5 1106.4 1091.5 C1107.7 1080.5 1110.2 1064.3 1111.5 1057 C1112.7 1049.7 1114.8 1037.3 1115.8 1036.6 C1116.9 1035.9 1118.3 1046.9 1119.1 1051.9 C1120 1056.9 1121.4 1064.5 1122.2 1074.1 C1123.1 1083.8 1124.6 1110.1 1125.5 1124.2 C1126.4 1138.2 1128 1169.7 1128.9 1179.6 C1129.7 1189.5 1131 1193.7 1131.9 1198.3 C1132.8 1202.9 1134.7 1215.9 1135.7 1214.1 C1136.8 1212.3 1138.5 1191.6 1139.6 1184.7 C1140.7 1177.8 1142.8 1168.6 1143.9 1162.5 C1145 1156.3 1146.8 1143.6 1147.7 1138.7 C1148.7 1133.9 1150.1 1126 1151.1 1126 C1152 1126 1153.5 1132.3 1154.9 1138.7 C1156.3 1145.2 1159.6 1167.2 1161.3 1174.5 C1163 1181.7 1166.1 1191 1167.7 1193.2 C1169.3 1195.3 1171.6 1192.1 1173.3 1190.6 C1175 1189.2 1178.8 1182 1180.4 1182.5 C1182.1 1182.9 1184.2 1189.1 1185.5 1194 C1186.9 1198.8 1189.3 1214.1 1190.6 1218.7 C1192 1223.4 1194.6 1228.3 1195.7 1228.9 C1196.9 1229.6 1198.3 1222.4 1199.6 1223.8 C1200.8 1225.3 1203.8 1234.6 1205.2 1239.7 C1206.6 1244.8 1208.9 1257.3 1209.8 1262.1 C1210.7 1266.9 1211.1 1268.9 1211.8 1275.7 C1212.5 1282.5 1213 1314.8 1214.9 1313.2 C1216.8 1311.6 1224.4 1274.1 1226.3 1263.9 C1228.1 1253.7 1228 1242.5 1228.8 1236.6 C1229.6 1230.7 1231.1 1224.9 1232.1 1220 C1233.2 1215.1 1235.3 1199.7 1236.5 1199.6 C1237.6 1199.4 1239.5 1212.4 1240.8 1218.7 C1242.2 1225.1 1245.2 1239.8 1246.7 1247.3 C1248.2 1254.8 1249.9 1269.5 1251.8 1274.9 C1253.7 1280.3 1258.5 1285.3 1260.7 1287.7 C1263 1290 1265.7 1293.1 1268.4 1292.8 C1271.1 1292.4 1277.5 1287 1281.2 1285.1 C1284.8 1283.2 1292.7 1280.9 1295.7 1278.2 C1298.8 1275.5 1302.3 1266.8 1304.1 1264.7 C1306 1262.5 1307.7 1261.4 1309.3 1262.1 C1310.8 1262.8 1313.9 1267.1 1315.6 1269.8 C1317.3 1272.5 1320.2 1280.2 1322 1282.6 C1323.8 1284.9 1327.5 1286 1329.2 1287.7 C1330.9 1289.4 1333 1295.7 1334.8 1295.3 C1336.6 1295 1339.8 1289.9 1342.4 1285.1 C1345.1 1280.3 1352.1 1265.2 1354.7 1259.1 C1357.3 1252.9 1360 1242.4 1361.6 1239.1 C1363.2 1235.9 1365.2 1233.9 1366.7 1234.6 C1368.2 1235.2 1371.2 1239.9 1373.1 1244.3 C1375 1248.6 1379 1262.5 1380.7 1267.2 C1382.5 1272 1384.7 1274.6 1386.4 1280 C1388.1 1285.4 1391.5 1303 1393.5 1308.1 C1395.5 1313.2 1399.1 1316.6 1401.2 1318.3 C1403.2 1320 1406.8 1321 1408.8 1320.9 C1410.9 1320.7 1414.3 1318.6 1416.5 1317 C1418.7 1315.4 1422.7 1310.6 1425.4 1308.9 C1428.1 1307.1 1434 1305.2 1436.9 1304.3 C1439.8 1303.3 1444.7 1301.1 1447.1 1302 C1449.5 1302.8 1452.4 1308.2 1454.8 1310.6 C1457.2 1313.1 1462.3 1320.6 1465 1320.3 C1467.7 1320.1 1472.5 1311.8 1475.2 1308.9 C1477.9 1305.9 1482.7 1300.6 1485.4 1297.9 C1488.1 1295.1 1493.4 1289.9 1495.6 1288.4 C1497.9 1287 1501.2 1287.3 1502 1287.1" fill="none" stroke="#c00000" stroke-width="1.4" />
<g fill="#fff" stroke="#c00000" stroke-width="1.6"><circle cx="951.9" cy="1314" r="7.6"/><circle cx="986.9" cy="1298.6" r="7.6"/><circle cx="1038" cy="1314" r="7.6"/><circle cx="1079.1" cy="1297.1" r="7.6"/><circle cx="1089.3" cy="1243" r="7.6"/><circle cx="1096.2" cy="1191.9" r="7.6"/><circle cx="1101.3" cy="1139.5" r="7.6"/><circle cx="1106.4" cy="1091.5" r="7.6"/><circle cx="1115.8" cy="1036.6" r="7.6"/><circle cx="1122.2" cy="1074.1" r="7.6"/><circle cx="1125.5" cy="1124.2" r="7.6"/><circle cx="1128.9" cy="1179.6" r="7.6"/><circle cx="1143.9" cy="1162.5" r="7.6"/><circle cx="1161.3" cy="1174.5" r="7.6"/><circle cx="1185.5" cy="1194" r="7.6"/><circle cx="1205.2" cy="1239.7" r="7.6"/><circle cx="1211.8" cy="1275.7" r="7.6"/><circle cx="1214.9" cy="1313.2" r="7.6"/><circle cx="1232.1" cy="1220" r="7.6"/><circle cx="1246.7" cy="1247.3" r="7.6"/><circle cx="1226.3" cy="1263.9" r="7.6"/><circle cx="1260.7" cy="1287.7" r="7.6"/><circle cx="1295.7" cy="1278.2" r="7.6"/><circle cx="1329.2" cy="1287.7" r="7.6"/><circle cx="1354.7" cy="1259.1" r="7.6"/><circle cx="1386.4" cy="1280" r="7.6"/><circle cx="1425.4" cy="1308.9" r="7.6"/><circle cx="1475.2" cy="1308.9" r="7.6"/></g>
<path d="M1241.5 1207.7 C1242.9 1205.5 1246.5 1199.2 1249.9 1194.7 C1253.3 1190.2 1257 1184.6 1261.7 1180.4 C1266.4 1176.2 1272 1172.7 1278.3 1169.7 C1284.6 1166.7 1292.2 1164.6 1299.7 1162.6 C1307.2 1160.6 1314.3 1159.3 1323.4 1157.9 C1332.5 1156.5 1341.2 1155.3 1354.3 1154.3 C1367.4 1153.3 1386 1152.5 1401.8 1151.9 C1417.6 1151.3 1432 1151 1449.3 1150.7 C1466.6 1150.4 1496.1 1150.1 1505.5 1150" fill="none" stroke="#7030a0" stroke-width="3.2" stroke-linecap="butt"/><path d="M1505.5 1150 L1487.4 1141.9 L1496.5 1150.1 L1487.6 1158.5Z" fill="#7030a0" stroke="none" stroke-width="1" />
<text x="909.3" y="1016.8" font-size="21.3" text-anchor="end" font-weight="bold" font-style="normal" fill="#000" >1.00E+12</text>
<text x="909.3" y="1069" font-size="21.3" text-anchor="end" font-weight="bold" font-style="normal" fill="#000" >1.00E+10</text>
<text x="909.3" y="1121.1" font-size="21.3" text-anchor="end" font-weight="bold" font-style="normal" fill="#000" >1.00E+08</text>
<text x="909.3" y="1173.2" font-size="21.3" text-anchor="end" font-weight="bold" font-style="normal" fill="#000" >1.00E+06</text>
<text x="909.3" y="1225.4" font-size="21.3" text-anchor="end" font-weight="bold" font-style="normal" fill="#000" >1.00E+04</text>
<text x="909.3" y="1277.5" font-size="21.3" text-anchor="end" font-weight="bold" font-style="normal" fill="#000" >1.00E+02</text>
<text x="909.3" y="1329.7" font-size="21.3" text-anchor="end" font-weight="bold" font-style="normal" fill="#000" >1.00E+00</text>
<text x="927.7" y="1356.4" font-size="21.3" text-anchor="middle" font-weight="bold" font-style="normal" fill="#000" >-13</text>
<text x="1055.8" y="1356.4" font-size="21.3" text-anchor="middle" font-weight="bold" font-style="normal" fill="#000" >-11</text>
<text x="1183.9" y="1356.4" font-size="21.3" text-anchor="middle" font-weight="bold" font-style="normal" fill="#000" >-9</text>
<text x="1312" y="1356.4" font-size="21.3" text-anchor="middle" font-weight="bold" font-style="normal" fill="#000" >-7</text>
<text x="1440.1" y="1356.4" font-size="21.3" text-anchor="middle" font-weight="bold" font-style="normal" fill="#000" >-5</text>
<text x="1523.2" y="988.1" font-size="21.3" text-anchor="start" font-weight="bold" font-style="normal" fill="#000" >1.00E-03</text>
<text x="1523.2" y="1055.9" font-size="21.3" text-anchor="start" font-weight="bold" font-style="normal" fill="#000" >8.00E-04</text>
<text x="1523.2" y="1123.7" font-size="21.3" text-anchor="start" font-weight="bold" font-style="normal" fill="#000" >6.00E-04</text>
<text x="1523.2" y="1191.5" font-size="21.3" text-anchor="start" font-weight="bold" font-style="normal" fill="#000" >4.00E-04</text>
<text x="1523.2" y="1259.3" font-size="21.3" text-anchor="start" font-weight="bold" font-style="normal" fill="#000" >2.00E-04</text>
<text x="1523.2" y="1327.1" font-size="21.3" text-anchor="start" font-weight="bold" font-style="normal" fill="#000" >0.00E+00</text>
<text x="1215.8" y="1384.3" font-size="21.3" text-anchor="middle" font-weight="bold" font-style="normal" fill="#000" >Fermi Energy (eV)</text>
<text x="816" y="1153" font-size="21.4" text-anchor="middle" font-weight="bold" font-style="normal" fill="#000" transform="rotate(-90 816 1153)" >Power factor enhancement</text>
<text x="1644" y="1156" font-size="21.4" text-anchor="middle" font-weight="bold" font-style="normal" fill="#000" transform="rotate(-90 1644 1156)" >Power factor</text>
<text x="963" y="1018.3" font-size="21.3" text-anchor="start" font-weight="bold" font-style="normal" fill="#000" >(f)</text>
<text x="1370.5" y="1007" font-size="18.3" text-anchor="start" font-weight="bold" font-style="normal" fill="#000" >1% Ga doping</text>
<text x="1370.5" y="1034" font-size="18.3" text-anchor="start" font-weight="bold" font-style="normal" fill="#000" >3% Ga doping</text>
<text x="1370.5" y="1058.7" font-size="18.3" text-anchor="start" font-weight="bold" font-style="normal" fill="#000" >5% Ga doping</text>
<line x1="1347" y1="1004" x2="1366" y2="1004" stroke="#9dc3e6" stroke-width="3.4" />
<line x1="1347" y1="1028.2" x2="1366" y2="1028.2" stroke="#ffd966" stroke-width="3.4" />
<line x1="1347" y1="1052" x2="1366" y2="1052" stroke="#92d050" stroke-width="3.4" />
</g>
</svg>
</body></html>
